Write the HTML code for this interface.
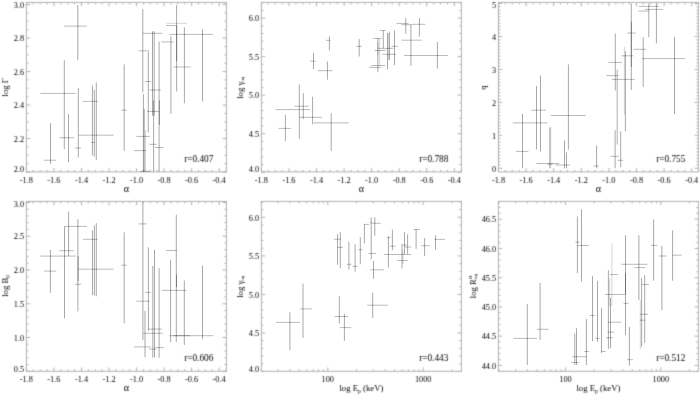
<!DOCTYPE html>
<html><head><meta charset="utf-8"><style>
html,body{margin:0;padding:0;background:#fff;width:700px;height:396px;overflow:hidden}
svg{display:block;will-change:transform}
text{font-family:"Liberation Serif",serif;fill:#000}
</style></head><body>
<svg width="700" height="396" viewBox="0 0 700 396">
<defs><filter id="b" x="0" y="0" width="700" height="396" filterUnits="userSpaceOnUse"><feConvolveMatrix order="3" kernelMatrix="0.0144 0.1200 0.0144 0.1200 0.4624 0.1200 0.0144 0.1200 0.0144" edgeMode="duplicate" preserveAlpha="false"/></filter><filter id="b2" x="0" y="0" width="700" height="396" filterUnits="userSpaceOnUse"><feConvolveMatrix order="3" kernelMatrix="0.0000 0.0000 0.0000 0.0000 1.0000 0.0000 0.0000 0.0000 0.0000" edgeMode="duplicate" preserveAlpha="false"/></filter></defs>
<rect width="700" height="396" fill="#fff"/>
<g filter="url(#b)">
<rect x="26.40" y="2.40" width="200.00" height="169.50" fill="none" stroke="#b0b0b0" stroke-width="1"/>
<line x1="26.40" y1="171.90" x2="26.40" y2="168.10" stroke="#b0b0b0" stroke-width="1.0"/>
<line x1="26.40" y1="2.40" x2="26.40" y2="6.20" stroke="#b0b0b0" stroke-width="1.0"/>
<text x="26.40" y="182.50" text-anchor="middle" font-size="8.3" >-1.8</text>
<line x1="33.29" y1="171.90" x2="33.29" y2="169.90" stroke="#b0b0b0" stroke-width="1.0"/>
<line x1="33.29" y1="2.40" x2="33.29" y2="4.40" stroke="#b0b0b0" stroke-width="1.0"/>
<line x1="40.17" y1="171.90" x2="40.17" y2="169.90" stroke="#b0b0b0" stroke-width="1.0"/>
<line x1="40.17" y1="2.40" x2="40.17" y2="4.40" stroke="#b0b0b0" stroke-width="1.0"/>
<line x1="47.06" y1="171.90" x2="47.06" y2="169.90" stroke="#b0b0b0" stroke-width="1.0"/>
<line x1="47.06" y1="2.40" x2="47.06" y2="4.40" stroke="#b0b0b0" stroke-width="1.0"/>
<line x1="53.94" y1="171.90" x2="53.94" y2="168.10" stroke="#b0b0b0" stroke-width="1.0"/>
<line x1="53.94" y1="2.40" x2="53.94" y2="6.20" stroke="#b0b0b0" stroke-width="1.0"/>
<text x="53.94" y="182.50" text-anchor="middle" font-size="8.3" >-1.6</text>
<line x1="60.82" y1="171.90" x2="60.82" y2="169.90" stroke="#b0b0b0" stroke-width="1.0"/>
<line x1="60.82" y1="2.40" x2="60.82" y2="4.40" stroke="#b0b0b0" stroke-width="1.0"/>
<line x1="67.71" y1="171.90" x2="67.71" y2="169.90" stroke="#b0b0b0" stroke-width="1.0"/>
<line x1="67.71" y1="2.40" x2="67.71" y2="4.40" stroke="#b0b0b0" stroke-width="1.0"/>
<line x1="74.59" y1="171.90" x2="74.59" y2="169.90" stroke="#b0b0b0" stroke-width="1.0"/>
<line x1="74.59" y1="2.40" x2="74.59" y2="4.40" stroke="#b0b0b0" stroke-width="1.0"/>
<line x1="81.48" y1="171.90" x2="81.48" y2="168.10" stroke="#b0b0b0" stroke-width="1.0"/>
<line x1="81.48" y1="2.40" x2="81.48" y2="6.20" stroke="#b0b0b0" stroke-width="1.0"/>
<text x="81.48" y="182.50" text-anchor="middle" font-size="8.3" >-1.4</text>
<line x1="88.36" y1="171.90" x2="88.36" y2="169.90" stroke="#b0b0b0" stroke-width="1.0"/>
<line x1="88.36" y1="2.40" x2="88.36" y2="4.40" stroke="#b0b0b0" stroke-width="1.0"/>
<line x1="95.25" y1="171.90" x2="95.25" y2="169.90" stroke="#b0b0b0" stroke-width="1.0"/>
<line x1="95.25" y1="2.40" x2="95.25" y2="4.40" stroke="#b0b0b0" stroke-width="1.0"/>
<line x1="102.13" y1="171.90" x2="102.13" y2="169.90" stroke="#b0b0b0" stroke-width="1.0"/>
<line x1="102.13" y1="2.40" x2="102.13" y2="4.40" stroke="#b0b0b0" stroke-width="1.0"/>
<line x1="109.02" y1="171.90" x2="109.02" y2="168.10" stroke="#b0b0b0" stroke-width="1.0"/>
<line x1="109.02" y1="2.40" x2="109.02" y2="6.20" stroke="#b0b0b0" stroke-width="1.0"/>
<text x="109.02" y="182.50" text-anchor="middle" font-size="8.3" >-1.2</text>
<line x1="115.91" y1="171.90" x2="115.91" y2="169.90" stroke="#b0b0b0" stroke-width="1.0"/>
<line x1="115.91" y1="2.40" x2="115.91" y2="4.40" stroke="#b0b0b0" stroke-width="1.0"/>
<line x1="122.79" y1="171.90" x2="122.79" y2="169.90" stroke="#b0b0b0" stroke-width="1.0"/>
<line x1="122.79" y1="2.40" x2="122.79" y2="4.40" stroke="#b0b0b0" stroke-width="1.0"/>
<line x1="129.67" y1="171.90" x2="129.67" y2="169.90" stroke="#b0b0b0" stroke-width="1.0"/>
<line x1="129.67" y1="2.40" x2="129.67" y2="4.40" stroke="#b0b0b0" stroke-width="1.0"/>
<line x1="136.56" y1="171.90" x2="136.56" y2="168.10" stroke="#b0b0b0" stroke-width="1.0"/>
<line x1="136.56" y1="2.40" x2="136.56" y2="6.20" stroke="#b0b0b0" stroke-width="1.0"/>
<text x="136.56" y="182.50" text-anchor="middle" font-size="8.3" >-1.0</text>
<line x1="143.44" y1="171.90" x2="143.44" y2="169.90" stroke="#b0b0b0" stroke-width="1.0"/>
<line x1="143.44" y1="2.40" x2="143.44" y2="4.40" stroke="#b0b0b0" stroke-width="1.0"/>
<line x1="150.33" y1="171.90" x2="150.33" y2="169.90" stroke="#b0b0b0" stroke-width="1.0"/>
<line x1="150.33" y1="2.40" x2="150.33" y2="4.40" stroke="#b0b0b0" stroke-width="1.0"/>
<line x1="157.22" y1="171.90" x2="157.22" y2="169.90" stroke="#b0b0b0" stroke-width="1.0"/>
<line x1="157.22" y1="2.40" x2="157.22" y2="4.40" stroke="#b0b0b0" stroke-width="1.0"/>
<line x1="164.10" y1="171.90" x2="164.10" y2="168.10" stroke="#b0b0b0" stroke-width="1.0"/>
<line x1="164.10" y1="2.40" x2="164.10" y2="6.20" stroke="#b0b0b0" stroke-width="1.0"/>
<text x="164.10" y="182.50" text-anchor="middle" font-size="8.3" >-0.8</text>
<line x1="170.99" y1="171.90" x2="170.99" y2="169.90" stroke="#b0b0b0" stroke-width="1.0"/>
<line x1="170.99" y1="2.40" x2="170.99" y2="4.40" stroke="#b0b0b0" stroke-width="1.0"/>
<line x1="177.87" y1="171.90" x2="177.87" y2="169.90" stroke="#b0b0b0" stroke-width="1.0"/>
<line x1="177.87" y1="2.40" x2="177.87" y2="4.40" stroke="#b0b0b0" stroke-width="1.0"/>
<line x1="184.76" y1="171.90" x2="184.76" y2="169.90" stroke="#b0b0b0" stroke-width="1.0"/>
<line x1="184.76" y1="2.40" x2="184.76" y2="4.40" stroke="#b0b0b0" stroke-width="1.0"/>
<line x1="191.64" y1="171.90" x2="191.64" y2="168.10" stroke="#b0b0b0" stroke-width="1.0"/>
<line x1="191.64" y1="2.40" x2="191.64" y2="6.20" stroke="#b0b0b0" stroke-width="1.0"/>
<text x="191.64" y="182.50" text-anchor="middle" font-size="8.3" >-0.6</text>
<line x1="198.53" y1="171.90" x2="198.53" y2="169.90" stroke="#b0b0b0" stroke-width="1.0"/>
<line x1="198.53" y1="2.40" x2="198.53" y2="4.40" stroke="#b0b0b0" stroke-width="1.0"/>
<line x1="205.41" y1="171.90" x2="205.41" y2="169.90" stroke="#b0b0b0" stroke-width="1.0"/>
<line x1="205.41" y1="2.40" x2="205.41" y2="4.40" stroke="#b0b0b0" stroke-width="1.0"/>
<line x1="212.30" y1="171.90" x2="212.30" y2="169.90" stroke="#b0b0b0" stroke-width="1.0"/>
<line x1="212.30" y1="2.40" x2="212.30" y2="4.40" stroke="#b0b0b0" stroke-width="1.0"/>
<line x1="219.18" y1="171.90" x2="219.18" y2="168.10" stroke="#b0b0b0" stroke-width="1.0"/>
<line x1="219.18" y1="2.40" x2="219.18" y2="6.20" stroke="#b0b0b0" stroke-width="1.0"/>
<text x="219.18" y="182.50" text-anchor="middle" font-size="8.3" >-0.4</text>
<line x1="226.07" y1="171.90" x2="226.07" y2="169.90" stroke="#b0b0b0" stroke-width="1.0"/>
<line x1="226.07" y1="2.40" x2="226.07" y2="4.40" stroke="#b0b0b0" stroke-width="1.0"/>
<line x1="26.40" y1="172.10" x2="30.20" y2="172.10" stroke="#b0b0b0" stroke-width="1.0"/>
<line x1="226.40" y1="172.10" x2="222.60" y2="172.10" stroke="#b0b0b0" stroke-width="1.0"/>
<text x="24.20" y="172.20" text-anchor="end" font-size="8.3" >2.0</text>
<line x1="26.40" y1="163.72" x2="28.40" y2="163.72" stroke="#b0b0b0" stroke-width="1.0"/>
<line x1="226.40" y1="163.72" x2="224.40" y2="163.72" stroke="#b0b0b0" stroke-width="1.0"/>
<line x1="26.40" y1="155.34" x2="28.40" y2="155.34" stroke="#b0b0b0" stroke-width="1.0"/>
<line x1="226.40" y1="155.34" x2="224.40" y2="155.34" stroke="#b0b0b0" stroke-width="1.0"/>
<line x1="26.40" y1="146.96" x2="28.40" y2="146.96" stroke="#b0b0b0" stroke-width="1.0"/>
<line x1="226.40" y1="146.96" x2="224.40" y2="146.96" stroke="#b0b0b0" stroke-width="1.0"/>
<line x1="26.40" y1="138.58" x2="30.20" y2="138.58" stroke="#b0b0b0" stroke-width="1.0"/>
<line x1="226.40" y1="138.58" x2="222.60" y2="138.58" stroke="#b0b0b0" stroke-width="1.0"/>
<text x="24.20" y="141.78" text-anchor="end" font-size="8.3" >2.2</text>
<line x1="26.40" y1="130.20" x2="28.40" y2="130.20" stroke="#b0b0b0" stroke-width="1.0"/>
<line x1="226.40" y1="130.20" x2="224.40" y2="130.20" stroke="#b0b0b0" stroke-width="1.0"/>
<line x1="26.40" y1="121.82" x2="28.40" y2="121.82" stroke="#b0b0b0" stroke-width="1.0"/>
<line x1="226.40" y1="121.82" x2="224.40" y2="121.82" stroke="#b0b0b0" stroke-width="1.0"/>
<line x1="26.40" y1="113.44" x2="28.40" y2="113.44" stroke="#b0b0b0" stroke-width="1.0"/>
<line x1="226.40" y1="113.44" x2="224.40" y2="113.44" stroke="#b0b0b0" stroke-width="1.0"/>
<line x1="26.40" y1="105.06" x2="30.20" y2="105.06" stroke="#b0b0b0" stroke-width="1.0"/>
<line x1="226.40" y1="105.06" x2="222.60" y2="105.06" stroke="#b0b0b0" stroke-width="1.0"/>
<text x="24.20" y="108.26" text-anchor="end" font-size="8.3" >2.4</text>
<line x1="26.40" y1="96.68" x2="28.40" y2="96.68" stroke="#b0b0b0" stroke-width="1.0"/>
<line x1="226.40" y1="96.68" x2="224.40" y2="96.68" stroke="#b0b0b0" stroke-width="1.0"/>
<line x1="26.40" y1="88.30" x2="28.40" y2="88.30" stroke="#b0b0b0" stroke-width="1.0"/>
<line x1="226.40" y1="88.30" x2="224.40" y2="88.30" stroke="#b0b0b0" stroke-width="1.0"/>
<line x1="26.40" y1="79.92" x2="28.40" y2="79.92" stroke="#b0b0b0" stroke-width="1.0"/>
<line x1="226.40" y1="79.92" x2="224.40" y2="79.92" stroke="#b0b0b0" stroke-width="1.0"/>
<line x1="26.40" y1="71.54" x2="30.20" y2="71.54" stroke="#b0b0b0" stroke-width="1.0"/>
<line x1="226.40" y1="71.54" x2="222.60" y2="71.54" stroke="#b0b0b0" stroke-width="1.0"/>
<text x="24.20" y="74.74" text-anchor="end" font-size="8.3" >2.6</text>
<line x1="26.40" y1="63.16" x2="28.40" y2="63.16" stroke="#b0b0b0" stroke-width="1.0"/>
<line x1="226.40" y1="63.16" x2="224.40" y2="63.16" stroke="#b0b0b0" stroke-width="1.0"/>
<line x1="26.40" y1="54.78" x2="28.40" y2="54.78" stroke="#b0b0b0" stroke-width="1.0"/>
<line x1="226.40" y1="54.78" x2="224.40" y2="54.78" stroke="#b0b0b0" stroke-width="1.0"/>
<line x1="26.40" y1="46.40" x2="28.40" y2="46.40" stroke="#b0b0b0" stroke-width="1.0"/>
<line x1="226.40" y1="46.40" x2="224.40" y2="46.40" stroke="#b0b0b0" stroke-width="1.0"/>
<line x1="26.40" y1="38.02" x2="30.20" y2="38.02" stroke="#b0b0b0" stroke-width="1.0"/>
<line x1="226.40" y1="38.02" x2="222.60" y2="38.02" stroke="#b0b0b0" stroke-width="1.0"/>
<text x="24.20" y="41.22" text-anchor="end" font-size="8.3" >2.8</text>
<line x1="26.40" y1="29.64" x2="28.40" y2="29.64" stroke="#b0b0b0" stroke-width="1.0"/>
<line x1="226.40" y1="29.64" x2="224.40" y2="29.64" stroke="#b0b0b0" stroke-width="1.0"/>
<line x1="26.40" y1="21.26" x2="28.40" y2="21.26" stroke="#b0b0b0" stroke-width="1.0"/>
<line x1="226.40" y1="21.26" x2="224.40" y2="21.26" stroke="#b0b0b0" stroke-width="1.0"/>
<line x1="26.40" y1="12.88" x2="28.40" y2="12.88" stroke="#b0b0b0" stroke-width="1.0"/>
<line x1="226.40" y1="12.88" x2="224.40" y2="12.88" stroke="#b0b0b0" stroke-width="1.0"/>
<line x1="26.40" y1="4.50" x2="30.20" y2="4.50" stroke="#b0b0b0" stroke-width="1.0"/>
<line x1="226.40" y1="4.50" x2="222.60" y2="4.50" stroke="#b0b0b0" stroke-width="1.0"/>
<text x="24.20" y="7.70" text-anchor="end" font-size="8.3" >3.0</text>
<rect x="261.40" y="2.40" width="200.00" height="169.50" fill="none" stroke="#b0b0b0" stroke-width="1"/>
<line x1="261.40" y1="171.90" x2="261.40" y2="168.10" stroke="#b0b0b0" stroke-width="1.0"/>
<line x1="261.40" y1="2.40" x2="261.40" y2="6.20" stroke="#b0b0b0" stroke-width="1.0"/>
<text x="261.40" y="182.50" text-anchor="middle" font-size="8.3" >-1.8</text>
<line x1="268.29" y1="171.90" x2="268.29" y2="169.90" stroke="#b0b0b0" stroke-width="1.0"/>
<line x1="268.29" y1="2.40" x2="268.29" y2="4.40" stroke="#b0b0b0" stroke-width="1.0"/>
<line x1="275.18" y1="171.90" x2="275.18" y2="169.90" stroke="#b0b0b0" stroke-width="1.0"/>
<line x1="275.18" y1="2.40" x2="275.18" y2="4.40" stroke="#b0b0b0" stroke-width="1.0"/>
<line x1="282.07" y1="171.90" x2="282.07" y2="169.90" stroke="#b0b0b0" stroke-width="1.0"/>
<line x1="282.07" y1="2.40" x2="282.07" y2="4.40" stroke="#b0b0b0" stroke-width="1.0"/>
<line x1="288.96" y1="171.90" x2="288.96" y2="168.10" stroke="#b0b0b0" stroke-width="1.0"/>
<line x1="288.96" y1="2.40" x2="288.96" y2="6.20" stroke="#b0b0b0" stroke-width="1.0"/>
<text x="288.96" y="182.50" text-anchor="middle" font-size="8.3" >-1.6</text>
<line x1="295.85" y1="171.90" x2="295.85" y2="169.90" stroke="#b0b0b0" stroke-width="1.0"/>
<line x1="295.85" y1="2.40" x2="295.85" y2="4.40" stroke="#b0b0b0" stroke-width="1.0"/>
<line x1="302.74" y1="171.90" x2="302.74" y2="169.90" stroke="#b0b0b0" stroke-width="1.0"/>
<line x1="302.74" y1="2.40" x2="302.74" y2="4.40" stroke="#b0b0b0" stroke-width="1.0"/>
<line x1="309.63" y1="171.90" x2="309.63" y2="169.90" stroke="#b0b0b0" stroke-width="1.0"/>
<line x1="309.63" y1="2.40" x2="309.63" y2="4.40" stroke="#b0b0b0" stroke-width="1.0"/>
<line x1="316.52" y1="171.90" x2="316.52" y2="168.10" stroke="#b0b0b0" stroke-width="1.0"/>
<line x1="316.52" y1="2.40" x2="316.52" y2="6.20" stroke="#b0b0b0" stroke-width="1.0"/>
<text x="316.52" y="182.50" text-anchor="middle" font-size="8.3" >-1.4</text>
<line x1="323.41" y1="171.90" x2="323.41" y2="169.90" stroke="#b0b0b0" stroke-width="1.0"/>
<line x1="323.41" y1="2.40" x2="323.41" y2="4.40" stroke="#b0b0b0" stroke-width="1.0"/>
<line x1="330.30" y1="171.90" x2="330.30" y2="169.90" stroke="#b0b0b0" stroke-width="1.0"/>
<line x1="330.30" y1="2.40" x2="330.30" y2="4.40" stroke="#b0b0b0" stroke-width="1.0"/>
<line x1="337.19" y1="171.90" x2="337.19" y2="169.90" stroke="#b0b0b0" stroke-width="1.0"/>
<line x1="337.19" y1="2.40" x2="337.19" y2="4.40" stroke="#b0b0b0" stroke-width="1.0"/>
<line x1="344.08" y1="171.90" x2="344.08" y2="168.10" stroke="#b0b0b0" stroke-width="1.0"/>
<line x1="344.08" y1="2.40" x2="344.08" y2="6.20" stroke="#b0b0b0" stroke-width="1.0"/>
<text x="344.08" y="182.50" text-anchor="middle" font-size="8.3" >-1.2</text>
<line x1="350.97" y1="171.90" x2="350.97" y2="169.90" stroke="#b0b0b0" stroke-width="1.0"/>
<line x1="350.97" y1="2.40" x2="350.97" y2="4.40" stroke="#b0b0b0" stroke-width="1.0"/>
<line x1="357.86" y1="171.90" x2="357.86" y2="169.90" stroke="#b0b0b0" stroke-width="1.0"/>
<line x1="357.86" y1="2.40" x2="357.86" y2="4.40" stroke="#b0b0b0" stroke-width="1.0"/>
<line x1="364.75" y1="171.90" x2="364.75" y2="169.90" stroke="#b0b0b0" stroke-width="1.0"/>
<line x1="364.75" y1="2.40" x2="364.75" y2="4.40" stroke="#b0b0b0" stroke-width="1.0"/>
<line x1="371.64" y1="171.90" x2="371.64" y2="168.10" stroke="#b0b0b0" stroke-width="1.0"/>
<line x1="371.64" y1="2.40" x2="371.64" y2="6.20" stroke="#b0b0b0" stroke-width="1.0"/>
<text x="371.64" y="182.50" text-anchor="middle" font-size="8.3" >-1.0</text>
<line x1="378.53" y1="171.90" x2="378.53" y2="169.90" stroke="#b0b0b0" stroke-width="1.0"/>
<line x1="378.53" y1="2.40" x2="378.53" y2="4.40" stroke="#b0b0b0" stroke-width="1.0"/>
<line x1="385.42" y1="171.90" x2="385.42" y2="169.90" stroke="#b0b0b0" stroke-width="1.0"/>
<line x1="385.42" y1="2.40" x2="385.42" y2="4.40" stroke="#b0b0b0" stroke-width="1.0"/>
<line x1="392.31" y1="171.90" x2="392.31" y2="169.90" stroke="#b0b0b0" stroke-width="1.0"/>
<line x1="392.31" y1="2.40" x2="392.31" y2="4.40" stroke="#b0b0b0" stroke-width="1.0"/>
<line x1="399.20" y1="171.90" x2="399.20" y2="168.10" stroke="#b0b0b0" stroke-width="1.0"/>
<line x1="399.20" y1="2.40" x2="399.20" y2="6.20" stroke="#b0b0b0" stroke-width="1.0"/>
<text x="399.20" y="182.50" text-anchor="middle" font-size="8.3" >-0.8</text>
<line x1="406.09" y1="171.90" x2="406.09" y2="169.90" stroke="#b0b0b0" stroke-width="1.0"/>
<line x1="406.09" y1="2.40" x2="406.09" y2="4.40" stroke="#b0b0b0" stroke-width="1.0"/>
<line x1="412.98" y1="171.90" x2="412.98" y2="169.90" stroke="#b0b0b0" stroke-width="1.0"/>
<line x1="412.98" y1="2.40" x2="412.98" y2="4.40" stroke="#b0b0b0" stroke-width="1.0"/>
<line x1="419.87" y1="171.90" x2="419.87" y2="169.90" stroke="#b0b0b0" stroke-width="1.0"/>
<line x1="419.87" y1="2.40" x2="419.87" y2="4.40" stroke="#b0b0b0" stroke-width="1.0"/>
<line x1="426.76" y1="171.90" x2="426.76" y2="168.10" stroke="#b0b0b0" stroke-width="1.0"/>
<line x1="426.76" y1="2.40" x2="426.76" y2="6.20" stroke="#b0b0b0" stroke-width="1.0"/>
<text x="426.76" y="182.50" text-anchor="middle" font-size="8.3" >-0.6</text>
<line x1="433.65" y1="171.90" x2="433.65" y2="169.90" stroke="#b0b0b0" stroke-width="1.0"/>
<line x1="433.65" y1="2.40" x2="433.65" y2="4.40" stroke="#b0b0b0" stroke-width="1.0"/>
<line x1="440.54" y1="171.90" x2="440.54" y2="169.90" stroke="#b0b0b0" stroke-width="1.0"/>
<line x1="440.54" y1="2.40" x2="440.54" y2="4.40" stroke="#b0b0b0" stroke-width="1.0"/>
<line x1="447.43" y1="171.90" x2="447.43" y2="169.90" stroke="#b0b0b0" stroke-width="1.0"/>
<line x1="447.43" y1="2.40" x2="447.43" y2="4.40" stroke="#b0b0b0" stroke-width="1.0"/>
<line x1="454.32" y1="171.90" x2="454.32" y2="168.10" stroke="#b0b0b0" stroke-width="1.0"/>
<line x1="454.32" y1="2.40" x2="454.32" y2="6.20" stroke="#b0b0b0" stroke-width="1.0"/>
<text x="454.32" y="182.50" text-anchor="middle" font-size="8.3" >-0.4</text>
<line x1="461.21" y1="171.90" x2="461.21" y2="169.90" stroke="#b0b0b0" stroke-width="1.0"/>
<line x1="461.21" y1="2.40" x2="461.21" y2="4.40" stroke="#b0b0b0" stroke-width="1.0"/>
<line x1="261.40" y1="172.20" x2="265.20" y2="172.20" stroke="#b0b0b0" stroke-width="1.0"/>
<line x1="461.40" y1="172.20" x2="457.60" y2="172.20" stroke="#b0b0b0" stroke-width="1.0"/>
<text x="259.20" y="172.20" text-anchor="end" font-size="8.3" >4.0</text>
<line x1="261.40" y1="164.49" x2="263.40" y2="164.49" stroke="#b0b0b0" stroke-width="1.0"/>
<line x1="461.40" y1="164.49" x2="459.40" y2="164.49" stroke="#b0b0b0" stroke-width="1.0"/>
<line x1="261.40" y1="156.79" x2="263.40" y2="156.79" stroke="#b0b0b0" stroke-width="1.0"/>
<line x1="461.40" y1="156.79" x2="459.40" y2="156.79" stroke="#b0b0b0" stroke-width="1.0"/>
<line x1="261.40" y1="149.08" x2="263.40" y2="149.08" stroke="#b0b0b0" stroke-width="1.0"/>
<line x1="461.40" y1="149.08" x2="459.40" y2="149.08" stroke="#b0b0b0" stroke-width="1.0"/>
<line x1="261.40" y1="141.38" x2="263.40" y2="141.38" stroke="#b0b0b0" stroke-width="1.0"/>
<line x1="461.40" y1="141.38" x2="459.40" y2="141.38" stroke="#b0b0b0" stroke-width="1.0"/>
<line x1="261.40" y1="133.67" x2="265.20" y2="133.67" stroke="#b0b0b0" stroke-width="1.0"/>
<line x1="461.40" y1="133.67" x2="457.60" y2="133.67" stroke="#b0b0b0" stroke-width="1.0"/>
<text x="259.20" y="136.87" text-anchor="end" font-size="8.3" >4.5</text>
<line x1="261.40" y1="125.96" x2="263.40" y2="125.96" stroke="#b0b0b0" stroke-width="1.0"/>
<line x1="461.40" y1="125.96" x2="459.40" y2="125.96" stroke="#b0b0b0" stroke-width="1.0"/>
<line x1="261.40" y1="118.26" x2="263.40" y2="118.26" stroke="#b0b0b0" stroke-width="1.0"/>
<line x1="461.40" y1="118.26" x2="459.40" y2="118.26" stroke="#b0b0b0" stroke-width="1.0"/>
<line x1="261.40" y1="110.55" x2="263.40" y2="110.55" stroke="#b0b0b0" stroke-width="1.0"/>
<line x1="461.40" y1="110.55" x2="459.40" y2="110.55" stroke="#b0b0b0" stroke-width="1.0"/>
<line x1="261.40" y1="102.85" x2="263.40" y2="102.85" stroke="#b0b0b0" stroke-width="1.0"/>
<line x1="461.40" y1="102.85" x2="459.40" y2="102.85" stroke="#b0b0b0" stroke-width="1.0"/>
<line x1="261.40" y1="95.14" x2="265.20" y2="95.14" stroke="#b0b0b0" stroke-width="1.0"/>
<line x1="461.40" y1="95.14" x2="457.60" y2="95.14" stroke="#b0b0b0" stroke-width="1.0"/>
<text x="259.20" y="98.34" text-anchor="end" font-size="8.3" >5.0</text>
<line x1="261.40" y1="87.43" x2="263.40" y2="87.43" stroke="#b0b0b0" stroke-width="1.0"/>
<line x1="461.40" y1="87.43" x2="459.40" y2="87.43" stroke="#b0b0b0" stroke-width="1.0"/>
<line x1="261.40" y1="79.73" x2="263.40" y2="79.73" stroke="#b0b0b0" stroke-width="1.0"/>
<line x1="461.40" y1="79.73" x2="459.40" y2="79.73" stroke="#b0b0b0" stroke-width="1.0"/>
<line x1="261.40" y1="72.02" x2="263.40" y2="72.02" stroke="#b0b0b0" stroke-width="1.0"/>
<line x1="461.40" y1="72.02" x2="459.40" y2="72.02" stroke="#b0b0b0" stroke-width="1.0"/>
<line x1="261.40" y1="64.32" x2="263.40" y2="64.32" stroke="#b0b0b0" stroke-width="1.0"/>
<line x1="461.40" y1="64.32" x2="459.40" y2="64.32" stroke="#b0b0b0" stroke-width="1.0"/>
<line x1="261.40" y1="56.61" x2="265.20" y2="56.61" stroke="#b0b0b0" stroke-width="1.0"/>
<line x1="461.40" y1="56.61" x2="457.60" y2="56.61" stroke="#b0b0b0" stroke-width="1.0"/>
<text x="259.20" y="59.81" text-anchor="end" font-size="8.3" >5.5</text>
<line x1="261.40" y1="48.90" x2="263.40" y2="48.90" stroke="#b0b0b0" stroke-width="1.0"/>
<line x1="461.40" y1="48.90" x2="459.40" y2="48.90" stroke="#b0b0b0" stroke-width="1.0"/>
<line x1="261.40" y1="41.20" x2="263.40" y2="41.20" stroke="#b0b0b0" stroke-width="1.0"/>
<line x1="461.40" y1="41.20" x2="459.40" y2="41.20" stroke="#b0b0b0" stroke-width="1.0"/>
<line x1="261.40" y1="33.49" x2="263.40" y2="33.49" stroke="#b0b0b0" stroke-width="1.0"/>
<line x1="461.40" y1="33.49" x2="459.40" y2="33.49" stroke="#b0b0b0" stroke-width="1.0"/>
<line x1="261.40" y1="25.79" x2="263.40" y2="25.79" stroke="#b0b0b0" stroke-width="1.0"/>
<line x1="461.40" y1="25.79" x2="459.40" y2="25.79" stroke="#b0b0b0" stroke-width="1.0"/>
<line x1="261.40" y1="18.08" x2="265.20" y2="18.08" stroke="#b0b0b0" stroke-width="1.0"/>
<line x1="461.40" y1="18.08" x2="457.60" y2="18.08" stroke="#b0b0b0" stroke-width="1.0"/>
<text x="259.20" y="21.28" text-anchor="end" font-size="8.3" >6.0</text>
<line x1="261.40" y1="10.37" x2="263.40" y2="10.37" stroke="#b0b0b0" stroke-width="1.0"/>
<line x1="461.40" y1="10.37" x2="459.40" y2="10.37" stroke="#b0b0b0" stroke-width="1.0"/>
<line x1="261.40" y1="2.67" x2="263.40" y2="2.67" stroke="#b0b0b0" stroke-width="1.0"/>
<line x1="461.40" y1="2.67" x2="459.40" y2="2.67" stroke="#b0b0b0" stroke-width="1.0"/>
<rect x="498.40" y="2.40" width="200.00" height="169.50" fill="none" stroke="#b0b0b0" stroke-width="1"/>
<line x1="498.50" y1="171.90" x2="498.50" y2="168.10" stroke="#b0b0b0" stroke-width="1.0"/>
<line x1="498.50" y1="2.40" x2="498.50" y2="6.20" stroke="#b0b0b0" stroke-width="1.0"/>
<text x="498.50" y="182.50" text-anchor="middle" font-size="8.3" >-1.8</text>
<line x1="505.40" y1="171.90" x2="505.40" y2="169.90" stroke="#b0b0b0" stroke-width="1.0"/>
<line x1="505.40" y1="2.40" x2="505.40" y2="4.40" stroke="#b0b0b0" stroke-width="1.0"/>
<line x1="512.30" y1="171.90" x2="512.30" y2="169.90" stroke="#b0b0b0" stroke-width="1.0"/>
<line x1="512.30" y1="2.40" x2="512.30" y2="4.40" stroke="#b0b0b0" stroke-width="1.0"/>
<line x1="519.20" y1="171.90" x2="519.20" y2="169.90" stroke="#b0b0b0" stroke-width="1.0"/>
<line x1="519.20" y1="2.40" x2="519.20" y2="4.40" stroke="#b0b0b0" stroke-width="1.0"/>
<line x1="526.10" y1="171.90" x2="526.10" y2="168.10" stroke="#b0b0b0" stroke-width="1.0"/>
<line x1="526.10" y1="2.40" x2="526.10" y2="6.20" stroke="#b0b0b0" stroke-width="1.0"/>
<text x="526.10" y="182.50" text-anchor="middle" font-size="8.3" >-1.6</text>
<line x1="533.00" y1="171.90" x2="533.00" y2="169.90" stroke="#b0b0b0" stroke-width="1.0"/>
<line x1="533.00" y1="2.40" x2="533.00" y2="4.40" stroke="#b0b0b0" stroke-width="1.0"/>
<line x1="539.90" y1="171.90" x2="539.90" y2="169.90" stroke="#b0b0b0" stroke-width="1.0"/>
<line x1="539.90" y1="2.40" x2="539.90" y2="4.40" stroke="#b0b0b0" stroke-width="1.0"/>
<line x1="546.80" y1="171.90" x2="546.80" y2="169.90" stroke="#b0b0b0" stroke-width="1.0"/>
<line x1="546.80" y1="2.40" x2="546.80" y2="4.40" stroke="#b0b0b0" stroke-width="1.0"/>
<line x1="553.70" y1="171.90" x2="553.70" y2="168.10" stroke="#b0b0b0" stroke-width="1.0"/>
<line x1="553.70" y1="2.40" x2="553.70" y2="6.20" stroke="#b0b0b0" stroke-width="1.0"/>
<text x="553.70" y="182.50" text-anchor="middle" font-size="8.3" >-1.4</text>
<line x1="560.60" y1="171.90" x2="560.60" y2="169.90" stroke="#b0b0b0" stroke-width="1.0"/>
<line x1="560.60" y1="2.40" x2="560.60" y2="4.40" stroke="#b0b0b0" stroke-width="1.0"/>
<line x1="567.50" y1="171.90" x2="567.50" y2="169.90" stroke="#b0b0b0" stroke-width="1.0"/>
<line x1="567.50" y1="2.40" x2="567.50" y2="4.40" stroke="#b0b0b0" stroke-width="1.0"/>
<line x1="574.40" y1="171.90" x2="574.40" y2="169.90" stroke="#b0b0b0" stroke-width="1.0"/>
<line x1="574.40" y1="2.40" x2="574.40" y2="4.40" stroke="#b0b0b0" stroke-width="1.0"/>
<line x1="581.30" y1="171.90" x2="581.30" y2="168.10" stroke="#b0b0b0" stroke-width="1.0"/>
<line x1="581.30" y1="2.40" x2="581.30" y2="6.20" stroke="#b0b0b0" stroke-width="1.0"/>
<text x="581.30" y="182.50" text-anchor="middle" font-size="8.3" >-1.2</text>
<line x1="588.20" y1="171.90" x2="588.20" y2="169.90" stroke="#b0b0b0" stroke-width="1.0"/>
<line x1="588.20" y1="2.40" x2="588.20" y2="4.40" stroke="#b0b0b0" stroke-width="1.0"/>
<line x1="595.10" y1="171.90" x2="595.10" y2="169.90" stroke="#b0b0b0" stroke-width="1.0"/>
<line x1="595.10" y1="2.40" x2="595.10" y2="4.40" stroke="#b0b0b0" stroke-width="1.0"/>
<line x1="602.00" y1="171.90" x2="602.00" y2="169.90" stroke="#b0b0b0" stroke-width="1.0"/>
<line x1="602.00" y1="2.40" x2="602.00" y2="4.40" stroke="#b0b0b0" stroke-width="1.0"/>
<line x1="608.90" y1="171.90" x2="608.90" y2="168.10" stroke="#b0b0b0" stroke-width="1.0"/>
<line x1="608.90" y1="2.40" x2="608.90" y2="6.20" stroke="#b0b0b0" stroke-width="1.0"/>
<text x="608.90" y="182.50" text-anchor="middle" font-size="8.3" >-1.0</text>
<line x1="615.80" y1="171.90" x2="615.80" y2="169.90" stroke="#b0b0b0" stroke-width="1.0"/>
<line x1="615.80" y1="2.40" x2="615.80" y2="4.40" stroke="#b0b0b0" stroke-width="1.0"/>
<line x1="622.70" y1="171.90" x2="622.70" y2="169.90" stroke="#b0b0b0" stroke-width="1.0"/>
<line x1="622.70" y1="2.40" x2="622.70" y2="4.40" stroke="#b0b0b0" stroke-width="1.0"/>
<line x1="629.60" y1="171.90" x2="629.60" y2="169.90" stroke="#b0b0b0" stroke-width="1.0"/>
<line x1="629.60" y1="2.40" x2="629.60" y2="4.40" stroke="#b0b0b0" stroke-width="1.0"/>
<line x1="636.50" y1="171.90" x2="636.50" y2="168.10" stroke="#b0b0b0" stroke-width="1.0"/>
<line x1="636.50" y1="2.40" x2="636.50" y2="6.20" stroke="#b0b0b0" stroke-width="1.0"/>
<text x="636.50" y="182.50" text-anchor="middle" font-size="8.3" >-0.8</text>
<line x1="643.40" y1="171.90" x2="643.40" y2="169.90" stroke="#b0b0b0" stroke-width="1.0"/>
<line x1="643.40" y1="2.40" x2="643.40" y2="4.40" stroke="#b0b0b0" stroke-width="1.0"/>
<line x1="650.30" y1="171.90" x2="650.30" y2="169.90" stroke="#b0b0b0" stroke-width="1.0"/>
<line x1="650.30" y1="2.40" x2="650.30" y2="4.40" stroke="#b0b0b0" stroke-width="1.0"/>
<line x1="657.20" y1="171.90" x2="657.20" y2="169.90" stroke="#b0b0b0" stroke-width="1.0"/>
<line x1="657.20" y1="2.40" x2="657.20" y2="4.40" stroke="#b0b0b0" stroke-width="1.0"/>
<line x1="664.10" y1="171.90" x2="664.10" y2="168.10" stroke="#b0b0b0" stroke-width="1.0"/>
<line x1="664.10" y1="2.40" x2="664.10" y2="6.20" stroke="#b0b0b0" stroke-width="1.0"/>
<text x="664.10" y="182.50" text-anchor="middle" font-size="8.3" >-0.6</text>
<line x1="671.00" y1="171.90" x2="671.00" y2="169.90" stroke="#b0b0b0" stroke-width="1.0"/>
<line x1="671.00" y1="2.40" x2="671.00" y2="4.40" stroke="#b0b0b0" stroke-width="1.0"/>
<line x1="677.90" y1="171.90" x2="677.90" y2="169.90" stroke="#b0b0b0" stroke-width="1.0"/>
<line x1="677.90" y1="2.40" x2="677.90" y2="4.40" stroke="#b0b0b0" stroke-width="1.0"/>
<line x1="684.80" y1="171.90" x2="684.80" y2="169.90" stroke="#b0b0b0" stroke-width="1.0"/>
<line x1="684.80" y1="2.40" x2="684.80" y2="4.40" stroke="#b0b0b0" stroke-width="1.0"/>
<line x1="691.70" y1="171.90" x2="691.70" y2="168.10" stroke="#b0b0b0" stroke-width="1.0"/>
<line x1="691.70" y1="2.40" x2="691.70" y2="6.20" stroke="#b0b0b0" stroke-width="1.0"/>
<text x="691.70" y="182.50" text-anchor="middle" font-size="8.3" >-0.4</text>
<line x1="698.60" y1="171.90" x2="698.60" y2="169.90" stroke="#b0b0b0" stroke-width="1.0"/>
<line x1="698.60" y1="2.40" x2="698.60" y2="4.40" stroke="#b0b0b0" stroke-width="1.0"/>
<line x1="498.40" y1="168.30" x2="502.20" y2="168.30" stroke="#b0b0b0" stroke-width="1.0"/>
<line x1="698.40" y1="168.30" x2="694.60" y2="168.30" stroke="#b0b0b0" stroke-width="1.0"/>
<text x="496.20" y="171.50" text-anchor="end" font-size="8.3" >0</text>
<line x1="498.40" y1="165.01" x2="500.40" y2="165.01" stroke="#b0b0b0" stroke-width="1.0"/>
<line x1="698.40" y1="165.01" x2="696.40" y2="165.01" stroke="#b0b0b0" stroke-width="1.0"/>
<line x1="498.40" y1="161.71" x2="500.40" y2="161.71" stroke="#b0b0b0" stroke-width="1.0"/>
<line x1="698.40" y1="161.71" x2="696.40" y2="161.71" stroke="#b0b0b0" stroke-width="1.0"/>
<line x1="498.40" y1="158.42" x2="500.40" y2="158.42" stroke="#b0b0b0" stroke-width="1.0"/>
<line x1="698.40" y1="158.42" x2="696.40" y2="158.42" stroke="#b0b0b0" stroke-width="1.0"/>
<line x1="498.40" y1="155.12" x2="500.40" y2="155.12" stroke="#b0b0b0" stroke-width="1.0"/>
<line x1="698.40" y1="155.12" x2="696.40" y2="155.12" stroke="#b0b0b0" stroke-width="1.0"/>
<line x1="498.40" y1="151.83" x2="500.40" y2="151.83" stroke="#b0b0b0" stroke-width="1.0"/>
<line x1="698.40" y1="151.83" x2="696.40" y2="151.83" stroke="#b0b0b0" stroke-width="1.0"/>
<line x1="498.40" y1="148.53" x2="500.40" y2="148.53" stroke="#b0b0b0" stroke-width="1.0"/>
<line x1="698.40" y1="148.53" x2="696.40" y2="148.53" stroke="#b0b0b0" stroke-width="1.0"/>
<line x1="498.40" y1="145.24" x2="500.40" y2="145.24" stroke="#b0b0b0" stroke-width="1.0"/>
<line x1="698.40" y1="145.24" x2="696.40" y2="145.24" stroke="#b0b0b0" stroke-width="1.0"/>
<line x1="498.40" y1="141.94" x2="500.40" y2="141.94" stroke="#b0b0b0" stroke-width="1.0"/>
<line x1="698.40" y1="141.94" x2="696.40" y2="141.94" stroke="#b0b0b0" stroke-width="1.0"/>
<line x1="498.40" y1="138.65" x2="500.40" y2="138.65" stroke="#b0b0b0" stroke-width="1.0"/>
<line x1="698.40" y1="138.65" x2="696.40" y2="138.65" stroke="#b0b0b0" stroke-width="1.0"/>
<line x1="498.40" y1="135.35" x2="502.20" y2="135.35" stroke="#b0b0b0" stroke-width="1.0"/>
<line x1="698.40" y1="135.35" x2="694.60" y2="135.35" stroke="#b0b0b0" stroke-width="1.0"/>
<text x="496.20" y="138.55" text-anchor="end" font-size="8.3" >1</text>
<line x1="498.40" y1="132.06" x2="500.40" y2="132.06" stroke="#b0b0b0" stroke-width="1.0"/>
<line x1="698.40" y1="132.06" x2="696.40" y2="132.06" stroke="#b0b0b0" stroke-width="1.0"/>
<line x1="498.40" y1="128.76" x2="500.40" y2="128.76" stroke="#b0b0b0" stroke-width="1.0"/>
<line x1="698.40" y1="128.76" x2="696.40" y2="128.76" stroke="#b0b0b0" stroke-width="1.0"/>
<line x1="498.40" y1="125.47" x2="500.40" y2="125.47" stroke="#b0b0b0" stroke-width="1.0"/>
<line x1="698.40" y1="125.47" x2="696.40" y2="125.47" stroke="#b0b0b0" stroke-width="1.0"/>
<line x1="498.40" y1="122.17" x2="500.40" y2="122.17" stroke="#b0b0b0" stroke-width="1.0"/>
<line x1="698.40" y1="122.17" x2="696.40" y2="122.17" stroke="#b0b0b0" stroke-width="1.0"/>
<line x1="498.40" y1="118.88" x2="500.40" y2="118.88" stroke="#b0b0b0" stroke-width="1.0"/>
<line x1="698.40" y1="118.88" x2="696.40" y2="118.88" stroke="#b0b0b0" stroke-width="1.0"/>
<line x1="498.40" y1="115.58" x2="500.40" y2="115.58" stroke="#b0b0b0" stroke-width="1.0"/>
<line x1="698.40" y1="115.58" x2="696.40" y2="115.58" stroke="#b0b0b0" stroke-width="1.0"/>
<line x1="498.40" y1="112.29" x2="500.40" y2="112.29" stroke="#b0b0b0" stroke-width="1.0"/>
<line x1="698.40" y1="112.29" x2="696.40" y2="112.29" stroke="#b0b0b0" stroke-width="1.0"/>
<line x1="498.40" y1="108.99" x2="500.40" y2="108.99" stroke="#b0b0b0" stroke-width="1.0"/>
<line x1="698.40" y1="108.99" x2="696.40" y2="108.99" stroke="#b0b0b0" stroke-width="1.0"/>
<line x1="498.40" y1="105.70" x2="500.40" y2="105.70" stroke="#b0b0b0" stroke-width="1.0"/>
<line x1="698.40" y1="105.70" x2="696.40" y2="105.70" stroke="#b0b0b0" stroke-width="1.0"/>
<line x1="498.40" y1="102.40" x2="502.20" y2="102.40" stroke="#b0b0b0" stroke-width="1.0"/>
<line x1="698.40" y1="102.40" x2="694.60" y2="102.40" stroke="#b0b0b0" stroke-width="1.0"/>
<text x="496.20" y="105.60" text-anchor="end" font-size="8.3" >2</text>
<line x1="498.40" y1="99.11" x2="500.40" y2="99.11" stroke="#b0b0b0" stroke-width="1.0"/>
<line x1="698.40" y1="99.11" x2="696.40" y2="99.11" stroke="#b0b0b0" stroke-width="1.0"/>
<line x1="498.40" y1="95.81" x2="500.40" y2="95.81" stroke="#b0b0b0" stroke-width="1.0"/>
<line x1="698.40" y1="95.81" x2="696.40" y2="95.81" stroke="#b0b0b0" stroke-width="1.0"/>
<line x1="498.40" y1="92.52" x2="500.40" y2="92.52" stroke="#b0b0b0" stroke-width="1.0"/>
<line x1="698.40" y1="92.52" x2="696.40" y2="92.52" stroke="#b0b0b0" stroke-width="1.0"/>
<line x1="498.40" y1="89.22" x2="500.40" y2="89.22" stroke="#b0b0b0" stroke-width="1.0"/>
<line x1="698.40" y1="89.22" x2="696.40" y2="89.22" stroke="#b0b0b0" stroke-width="1.0"/>
<line x1="498.40" y1="85.93" x2="500.40" y2="85.93" stroke="#b0b0b0" stroke-width="1.0"/>
<line x1="698.40" y1="85.93" x2="696.40" y2="85.93" stroke="#b0b0b0" stroke-width="1.0"/>
<line x1="498.40" y1="82.63" x2="500.40" y2="82.63" stroke="#b0b0b0" stroke-width="1.0"/>
<line x1="698.40" y1="82.63" x2="696.40" y2="82.63" stroke="#b0b0b0" stroke-width="1.0"/>
<line x1="498.40" y1="79.33" x2="500.40" y2="79.33" stroke="#b0b0b0" stroke-width="1.0"/>
<line x1="698.40" y1="79.33" x2="696.40" y2="79.33" stroke="#b0b0b0" stroke-width="1.0"/>
<line x1="498.40" y1="76.04" x2="500.40" y2="76.04" stroke="#b0b0b0" stroke-width="1.0"/>
<line x1="698.40" y1="76.04" x2="696.40" y2="76.04" stroke="#b0b0b0" stroke-width="1.0"/>
<line x1="498.40" y1="72.75" x2="500.40" y2="72.75" stroke="#b0b0b0" stroke-width="1.0"/>
<line x1="698.40" y1="72.75" x2="696.40" y2="72.75" stroke="#b0b0b0" stroke-width="1.0"/>
<line x1="498.40" y1="69.45" x2="502.20" y2="69.45" stroke="#b0b0b0" stroke-width="1.0"/>
<line x1="698.40" y1="69.45" x2="694.60" y2="69.45" stroke="#b0b0b0" stroke-width="1.0"/>
<text x="496.20" y="72.65" text-anchor="end" font-size="8.3" >3</text>
<line x1="498.40" y1="66.16" x2="500.40" y2="66.16" stroke="#b0b0b0" stroke-width="1.0"/>
<line x1="698.40" y1="66.16" x2="696.40" y2="66.16" stroke="#b0b0b0" stroke-width="1.0"/>
<line x1="498.40" y1="62.86" x2="500.40" y2="62.86" stroke="#b0b0b0" stroke-width="1.0"/>
<line x1="698.40" y1="62.86" x2="696.40" y2="62.86" stroke="#b0b0b0" stroke-width="1.0"/>
<line x1="498.40" y1="59.57" x2="500.40" y2="59.57" stroke="#b0b0b0" stroke-width="1.0"/>
<line x1="698.40" y1="59.57" x2="696.40" y2="59.57" stroke="#b0b0b0" stroke-width="1.0"/>
<line x1="498.40" y1="56.27" x2="500.40" y2="56.27" stroke="#b0b0b0" stroke-width="1.0"/>
<line x1="698.40" y1="56.27" x2="696.40" y2="56.27" stroke="#b0b0b0" stroke-width="1.0"/>
<line x1="498.40" y1="52.97" x2="500.40" y2="52.97" stroke="#b0b0b0" stroke-width="1.0"/>
<line x1="698.40" y1="52.97" x2="696.40" y2="52.97" stroke="#b0b0b0" stroke-width="1.0"/>
<line x1="498.40" y1="49.68" x2="500.40" y2="49.68" stroke="#b0b0b0" stroke-width="1.0"/>
<line x1="698.40" y1="49.68" x2="696.40" y2="49.68" stroke="#b0b0b0" stroke-width="1.0"/>
<line x1="498.40" y1="46.38" x2="500.40" y2="46.38" stroke="#b0b0b0" stroke-width="1.0"/>
<line x1="698.40" y1="46.38" x2="696.40" y2="46.38" stroke="#b0b0b0" stroke-width="1.0"/>
<line x1="498.40" y1="43.09" x2="500.40" y2="43.09" stroke="#b0b0b0" stroke-width="1.0"/>
<line x1="698.40" y1="43.09" x2="696.40" y2="43.09" stroke="#b0b0b0" stroke-width="1.0"/>
<line x1="498.40" y1="39.80" x2="500.40" y2="39.80" stroke="#b0b0b0" stroke-width="1.0"/>
<line x1="698.40" y1="39.80" x2="696.40" y2="39.80" stroke="#b0b0b0" stroke-width="1.0"/>
<line x1="498.40" y1="36.50" x2="502.20" y2="36.50" stroke="#b0b0b0" stroke-width="1.0"/>
<line x1="698.40" y1="36.50" x2="694.60" y2="36.50" stroke="#b0b0b0" stroke-width="1.0"/>
<text x="496.20" y="39.70" text-anchor="end" font-size="8.3" >4</text>
<line x1="498.40" y1="33.21" x2="500.40" y2="33.21" stroke="#b0b0b0" stroke-width="1.0"/>
<line x1="698.40" y1="33.21" x2="696.40" y2="33.21" stroke="#b0b0b0" stroke-width="1.0"/>
<line x1="498.40" y1="29.91" x2="500.40" y2="29.91" stroke="#b0b0b0" stroke-width="1.0"/>
<line x1="698.40" y1="29.91" x2="696.40" y2="29.91" stroke="#b0b0b0" stroke-width="1.0"/>
<line x1="498.40" y1="26.62" x2="500.40" y2="26.62" stroke="#b0b0b0" stroke-width="1.0"/>
<line x1="698.40" y1="26.62" x2="696.40" y2="26.62" stroke="#b0b0b0" stroke-width="1.0"/>
<line x1="498.40" y1="23.32" x2="500.40" y2="23.32" stroke="#b0b0b0" stroke-width="1.0"/>
<line x1="698.40" y1="23.32" x2="696.40" y2="23.32" stroke="#b0b0b0" stroke-width="1.0"/>
<line x1="498.40" y1="20.03" x2="500.40" y2="20.03" stroke="#b0b0b0" stroke-width="1.0"/>
<line x1="698.40" y1="20.03" x2="696.40" y2="20.03" stroke="#b0b0b0" stroke-width="1.0"/>
<line x1="498.40" y1="16.73" x2="500.40" y2="16.73" stroke="#b0b0b0" stroke-width="1.0"/>
<line x1="698.40" y1="16.73" x2="696.40" y2="16.73" stroke="#b0b0b0" stroke-width="1.0"/>
<line x1="498.40" y1="13.44" x2="500.40" y2="13.44" stroke="#b0b0b0" stroke-width="1.0"/>
<line x1="698.40" y1="13.44" x2="696.40" y2="13.44" stroke="#b0b0b0" stroke-width="1.0"/>
<line x1="498.40" y1="10.14" x2="500.40" y2="10.14" stroke="#b0b0b0" stroke-width="1.0"/>
<line x1="698.40" y1="10.14" x2="696.40" y2="10.14" stroke="#b0b0b0" stroke-width="1.0"/>
<line x1="498.40" y1="6.84" x2="500.40" y2="6.84" stroke="#b0b0b0" stroke-width="1.0"/>
<line x1="698.40" y1="6.84" x2="696.40" y2="6.84" stroke="#b0b0b0" stroke-width="1.0"/>
<line x1="498.40" y1="3.55" x2="502.20" y2="3.55" stroke="#b0b0b0" stroke-width="1.0"/>
<line x1="698.40" y1="3.55" x2="694.60" y2="3.55" stroke="#b0b0b0" stroke-width="1.0"/>
<text x="496.20" y="7.70" text-anchor="end" font-size="8.3" >5</text>
<rect x="26.40" y="201.40" width="200.00" height="169.90" fill="none" stroke="#b0b0b0" stroke-width="1"/>
<line x1="26.40" y1="371.30" x2="26.40" y2="367.50" stroke="#b0b0b0" stroke-width="1.0"/>
<line x1="26.40" y1="201.40" x2="26.40" y2="205.20" stroke="#b0b0b0" stroke-width="1.0"/>
<text x="26.40" y="381.90" text-anchor="middle" font-size="8.3" >-1.8</text>
<line x1="33.29" y1="371.30" x2="33.29" y2="369.30" stroke="#b0b0b0" stroke-width="1.0"/>
<line x1="33.29" y1="201.40" x2="33.29" y2="203.40" stroke="#b0b0b0" stroke-width="1.0"/>
<line x1="40.17" y1="371.30" x2="40.17" y2="369.30" stroke="#b0b0b0" stroke-width="1.0"/>
<line x1="40.17" y1="201.40" x2="40.17" y2="203.40" stroke="#b0b0b0" stroke-width="1.0"/>
<line x1="47.06" y1="371.30" x2="47.06" y2="369.30" stroke="#b0b0b0" stroke-width="1.0"/>
<line x1="47.06" y1="201.40" x2="47.06" y2="203.40" stroke="#b0b0b0" stroke-width="1.0"/>
<line x1="53.94" y1="371.30" x2="53.94" y2="367.50" stroke="#b0b0b0" stroke-width="1.0"/>
<line x1="53.94" y1="201.40" x2="53.94" y2="205.20" stroke="#b0b0b0" stroke-width="1.0"/>
<text x="53.94" y="381.90" text-anchor="middle" font-size="8.3" >-1.6</text>
<line x1="60.82" y1="371.30" x2="60.82" y2="369.30" stroke="#b0b0b0" stroke-width="1.0"/>
<line x1="60.82" y1="201.40" x2="60.82" y2="203.40" stroke="#b0b0b0" stroke-width="1.0"/>
<line x1="67.71" y1="371.30" x2="67.71" y2="369.30" stroke="#b0b0b0" stroke-width="1.0"/>
<line x1="67.71" y1="201.40" x2="67.71" y2="203.40" stroke="#b0b0b0" stroke-width="1.0"/>
<line x1="74.59" y1="371.30" x2="74.59" y2="369.30" stroke="#b0b0b0" stroke-width="1.0"/>
<line x1="74.59" y1="201.40" x2="74.59" y2="203.40" stroke="#b0b0b0" stroke-width="1.0"/>
<line x1="81.48" y1="371.30" x2="81.48" y2="367.50" stroke="#b0b0b0" stroke-width="1.0"/>
<line x1="81.48" y1="201.40" x2="81.48" y2="205.20" stroke="#b0b0b0" stroke-width="1.0"/>
<text x="81.48" y="381.90" text-anchor="middle" font-size="8.3" >-1.4</text>
<line x1="88.36" y1="371.30" x2="88.36" y2="369.30" stroke="#b0b0b0" stroke-width="1.0"/>
<line x1="88.36" y1="201.40" x2="88.36" y2="203.40" stroke="#b0b0b0" stroke-width="1.0"/>
<line x1="95.25" y1="371.30" x2="95.25" y2="369.30" stroke="#b0b0b0" stroke-width="1.0"/>
<line x1="95.25" y1="201.40" x2="95.25" y2="203.40" stroke="#b0b0b0" stroke-width="1.0"/>
<line x1="102.13" y1="371.30" x2="102.13" y2="369.30" stroke="#b0b0b0" stroke-width="1.0"/>
<line x1="102.13" y1="201.40" x2="102.13" y2="203.40" stroke="#b0b0b0" stroke-width="1.0"/>
<line x1="109.02" y1="371.30" x2="109.02" y2="367.50" stroke="#b0b0b0" stroke-width="1.0"/>
<line x1="109.02" y1="201.40" x2="109.02" y2="205.20" stroke="#b0b0b0" stroke-width="1.0"/>
<text x="109.02" y="381.90" text-anchor="middle" font-size="8.3" >-1.2</text>
<line x1="115.91" y1="371.30" x2="115.91" y2="369.30" stroke="#b0b0b0" stroke-width="1.0"/>
<line x1="115.91" y1="201.40" x2="115.91" y2="203.40" stroke="#b0b0b0" stroke-width="1.0"/>
<line x1="122.79" y1="371.30" x2="122.79" y2="369.30" stroke="#b0b0b0" stroke-width="1.0"/>
<line x1="122.79" y1="201.40" x2="122.79" y2="203.40" stroke="#b0b0b0" stroke-width="1.0"/>
<line x1="129.67" y1="371.30" x2="129.67" y2="369.30" stroke="#b0b0b0" stroke-width="1.0"/>
<line x1="129.67" y1="201.40" x2="129.67" y2="203.40" stroke="#b0b0b0" stroke-width="1.0"/>
<line x1="136.56" y1="371.30" x2="136.56" y2="367.50" stroke="#b0b0b0" stroke-width="1.0"/>
<line x1="136.56" y1="201.40" x2="136.56" y2="205.20" stroke="#b0b0b0" stroke-width="1.0"/>
<text x="136.56" y="381.90" text-anchor="middle" font-size="8.3" >-1.0</text>
<line x1="143.44" y1="371.30" x2="143.44" y2="369.30" stroke="#b0b0b0" stroke-width="1.0"/>
<line x1="143.44" y1="201.40" x2="143.44" y2="203.40" stroke="#b0b0b0" stroke-width="1.0"/>
<line x1="150.33" y1="371.30" x2="150.33" y2="369.30" stroke="#b0b0b0" stroke-width="1.0"/>
<line x1="150.33" y1="201.40" x2="150.33" y2="203.40" stroke="#b0b0b0" stroke-width="1.0"/>
<line x1="157.22" y1="371.30" x2="157.22" y2="369.30" stroke="#b0b0b0" stroke-width="1.0"/>
<line x1="157.22" y1="201.40" x2="157.22" y2="203.40" stroke="#b0b0b0" stroke-width="1.0"/>
<line x1="164.10" y1="371.30" x2="164.10" y2="367.50" stroke="#b0b0b0" stroke-width="1.0"/>
<line x1="164.10" y1="201.40" x2="164.10" y2="205.20" stroke="#b0b0b0" stroke-width="1.0"/>
<text x="164.10" y="381.90" text-anchor="middle" font-size="8.3" >-0.8</text>
<line x1="170.99" y1="371.30" x2="170.99" y2="369.30" stroke="#b0b0b0" stroke-width="1.0"/>
<line x1="170.99" y1="201.40" x2="170.99" y2="203.40" stroke="#b0b0b0" stroke-width="1.0"/>
<line x1="177.87" y1="371.30" x2="177.87" y2="369.30" stroke="#b0b0b0" stroke-width="1.0"/>
<line x1="177.87" y1="201.40" x2="177.87" y2="203.40" stroke="#b0b0b0" stroke-width="1.0"/>
<line x1="184.76" y1="371.30" x2="184.76" y2="369.30" stroke="#b0b0b0" stroke-width="1.0"/>
<line x1="184.76" y1="201.40" x2="184.76" y2="203.40" stroke="#b0b0b0" stroke-width="1.0"/>
<line x1="191.64" y1="371.30" x2="191.64" y2="367.50" stroke="#b0b0b0" stroke-width="1.0"/>
<line x1="191.64" y1="201.40" x2="191.64" y2="205.20" stroke="#b0b0b0" stroke-width="1.0"/>
<text x="191.64" y="381.90" text-anchor="middle" font-size="8.3" >-0.6</text>
<line x1="198.53" y1="371.30" x2="198.53" y2="369.30" stroke="#b0b0b0" stroke-width="1.0"/>
<line x1="198.53" y1="201.40" x2="198.53" y2="203.40" stroke="#b0b0b0" stroke-width="1.0"/>
<line x1="205.41" y1="371.30" x2="205.41" y2="369.30" stroke="#b0b0b0" stroke-width="1.0"/>
<line x1="205.41" y1="201.40" x2="205.41" y2="203.40" stroke="#b0b0b0" stroke-width="1.0"/>
<line x1="212.30" y1="371.30" x2="212.30" y2="369.30" stroke="#b0b0b0" stroke-width="1.0"/>
<line x1="212.30" y1="201.40" x2="212.30" y2="203.40" stroke="#b0b0b0" stroke-width="1.0"/>
<line x1="219.18" y1="371.30" x2="219.18" y2="367.50" stroke="#b0b0b0" stroke-width="1.0"/>
<line x1="219.18" y1="201.40" x2="219.18" y2="205.20" stroke="#b0b0b0" stroke-width="1.0"/>
<text x="219.18" y="381.90" text-anchor="middle" font-size="8.3" >-0.4</text>
<line x1="226.07" y1="371.30" x2="226.07" y2="369.30" stroke="#b0b0b0" stroke-width="1.0"/>
<line x1="226.07" y1="201.40" x2="226.07" y2="203.40" stroke="#b0b0b0" stroke-width="1.0"/>
<line x1="26.40" y1="371.25" x2="30.20" y2="371.25" stroke="#b0b0b0" stroke-width="1.0"/>
<line x1="226.40" y1="371.25" x2="222.60" y2="371.25" stroke="#b0b0b0" stroke-width="1.0"/>
<text x="24.20" y="371.60" text-anchor="end" font-size="8.3" >0.5</text>
<line x1="26.40" y1="364.50" x2="28.40" y2="364.50" stroke="#b0b0b0" stroke-width="1.0"/>
<line x1="226.40" y1="364.50" x2="224.40" y2="364.50" stroke="#b0b0b0" stroke-width="1.0"/>
<line x1="26.40" y1="357.75" x2="28.40" y2="357.75" stroke="#b0b0b0" stroke-width="1.0"/>
<line x1="226.40" y1="357.75" x2="224.40" y2="357.75" stroke="#b0b0b0" stroke-width="1.0"/>
<line x1="26.40" y1="350.99" x2="28.40" y2="350.99" stroke="#b0b0b0" stroke-width="1.0"/>
<line x1="226.40" y1="350.99" x2="224.40" y2="350.99" stroke="#b0b0b0" stroke-width="1.0"/>
<line x1="26.40" y1="344.24" x2="28.40" y2="344.24" stroke="#b0b0b0" stroke-width="1.0"/>
<line x1="226.40" y1="344.24" x2="224.40" y2="344.24" stroke="#b0b0b0" stroke-width="1.0"/>
<line x1="26.40" y1="337.49" x2="30.20" y2="337.49" stroke="#b0b0b0" stroke-width="1.0"/>
<line x1="226.40" y1="337.49" x2="222.60" y2="337.49" stroke="#b0b0b0" stroke-width="1.0"/>
<text x="24.20" y="340.69" text-anchor="end" font-size="8.3" >1.0</text>
<line x1="26.40" y1="330.74" x2="28.40" y2="330.74" stroke="#b0b0b0" stroke-width="1.0"/>
<line x1="226.40" y1="330.74" x2="224.40" y2="330.74" stroke="#b0b0b0" stroke-width="1.0"/>
<line x1="26.40" y1="323.99" x2="28.40" y2="323.99" stroke="#b0b0b0" stroke-width="1.0"/>
<line x1="226.40" y1="323.99" x2="224.40" y2="323.99" stroke="#b0b0b0" stroke-width="1.0"/>
<line x1="26.40" y1="317.23" x2="28.40" y2="317.23" stroke="#b0b0b0" stroke-width="1.0"/>
<line x1="226.40" y1="317.23" x2="224.40" y2="317.23" stroke="#b0b0b0" stroke-width="1.0"/>
<line x1="26.40" y1="310.48" x2="28.40" y2="310.48" stroke="#b0b0b0" stroke-width="1.0"/>
<line x1="226.40" y1="310.48" x2="224.40" y2="310.48" stroke="#b0b0b0" stroke-width="1.0"/>
<line x1="26.40" y1="303.73" x2="30.20" y2="303.73" stroke="#b0b0b0" stroke-width="1.0"/>
<line x1="226.40" y1="303.73" x2="222.60" y2="303.73" stroke="#b0b0b0" stroke-width="1.0"/>
<text x="24.20" y="306.93" text-anchor="end" font-size="8.3" >1.5</text>
<line x1="26.40" y1="296.98" x2="28.40" y2="296.98" stroke="#b0b0b0" stroke-width="1.0"/>
<line x1="226.40" y1="296.98" x2="224.40" y2="296.98" stroke="#b0b0b0" stroke-width="1.0"/>
<line x1="26.40" y1="290.23" x2="28.40" y2="290.23" stroke="#b0b0b0" stroke-width="1.0"/>
<line x1="226.40" y1="290.23" x2="224.40" y2="290.23" stroke="#b0b0b0" stroke-width="1.0"/>
<line x1="26.40" y1="283.47" x2="28.40" y2="283.47" stroke="#b0b0b0" stroke-width="1.0"/>
<line x1="226.40" y1="283.47" x2="224.40" y2="283.47" stroke="#b0b0b0" stroke-width="1.0"/>
<line x1="26.40" y1="276.72" x2="28.40" y2="276.72" stroke="#b0b0b0" stroke-width="1.0"/>
<line x1="226.40" y1="276.72" x2="224.40" y2="276.72" stroke="#b0b0b0" stroke-width="1.0"/>
<line x1="26.40" y1="269.97" x2="30.20" y2="269.97" stroke="#b0b0b0" stroke-width="1.0"/>
<line x1="226.40" y1="269.97" x2="222.60" y2="269.97" stroke="#b0b0b0" stroke-width="1.0"/>
<text x="24.20" y="273.17" text-anchor="end" font-size="8.3" >2.0</text>
<line x1="26.40" y1="263.22" x2="28.40" y2="263.22" stroke="#b0b0b0" stroke-width="1.0"/>
<line x1="226.40" y1="263.22" x2="224.40" y2="263.22" stroke="#b0b0b0" stroke-width="1.0"/>
<line x1="26.40" y1="256.47" x2="28.40" y2="256.47" stroke="#b0b0b0" stroke-width="1.0"/>
<line x1="226.40" y1="256.47" x2="224.40" y2="256.47" stroke="#b0b0b0" stroke-width="1.0"/>
<line x1="26.40" y1="249.71" x2="28.40" y2="249.71" stroke="#b0b0b0" stroke-width="1.0"/>
<line x1="226.40" y1="249.71" x2="224.40" y2="249.71" stroke="#b0b0b0" stroke-width="1.0"/>
<line x1="26.40" y1="242.96" x2="28.40" y2="242.96" stroke="#b0b0b0" stroke-width="1.0"/>
<line x1="226.40" y1="242.96" x2="224.40" y2="242.96" stroke="#b0b0b0" stroke-width="1.0"/>
<line x1="26.40" y1="236.21" x2="30.20" y2="236.21" stroke="#b0b0b0" stroke-width="1.0"/>
<line x1="226.40" y1="236.21" x2="222.60" y2="236.21" stroke="#b0b0b0" stroke-width="1.0"/>
<text x="24.20" y="239.41" text-anchor="end" font-size="8.3" >2.5</text>
<line x1="26.40" y1="229.46" x2="28.40" y2="229.46" stroke="#b0b0b0" stroke-width="1.0"/>
<line x1="226.40" y1="229.46" x2="224.40" y2="229.46" stroke="#b0b0b0" stroke-width="1.0"/>
<line x1="26.40" y1="222.71" x2="28.40" y2="222.71" stroke="#b0b0b0" stroke-width="1.0"/>
<line x1="226.40" y1="222.71" x2="224.40" y2="222.71" stroke="#b0b0b0" stroke-width="1.0"/>
<line x1="26.40" y1="215.95" x2="28.40" y2="215.95" stroke="#b0b0b0" stroke-width="1.0"/>
<line x1="226.40" y1="215.95" x2="224.40" y2="215.95" stroke="#b0b0b0" stroke-width="1.0"/>
<line x1="26.40" y1="209.20" x2="28.40" y2="209.20" stroke="#b0b0b0" stroke-width="1.0"/>
<line x1="226.40" y1="209.20" x2="224.40" y2="209.20" stroke="#b0b0b0" stroke-width="1.0"/>
<line x1="26.40" y1="202.45" x2="30.20" y2="202.45" stroke="#b0b0b0" stroke-width="1.0"/>
<line x1="226.40" y1="202.45" x2="222.60" y2="202.45" stroke="#b0b0b0" stroke-width="1.0"/>
<text x="24.20" y="206.70" text-anchor="end" font-size="8.3" >3.0</text>
<rect x="261.40" y="201.40" width="200.00" height="169.90" fill="none" stroke="#b0b0b0" stroke-width="1"/>
<line x1="261.12" y1="371.30" x2="261.12" y2="369.30" stroke="#b0b0b0" stroke-width="1.0"/>
<line x1="261.12" y1="201.40" x2="261.12" y2="203.40" stroke="#b0b0b0" stroke-width="1.0"/>
<line x1="277.92" y1="371.30" x2="277.92" y2="369.30" stroke="#b0b0b0" stroke-width="1.0"/>
<line x1="277.92" y1="201.40" x2="277.92" y2="203.40" stroke="#b0b0b0" stroke-width="1.0"/>
<line x1="289.84" y1="371.30" x2="289.84" y2="369.30" stroke="#b0b0b0" stroke-width="1.0"/>
<line x1="289.84" y1="201.40" x2="289.84" y2="203.40" stroke="#b0b0b0" stroke-width="1.0"/>
<line x1="299.08" y1="371.30" x2="299.08" y2="369.30" stroke="#b0b0b0" stroke-width="1.0"/>
<line x1="299.08" y1="201.40" x2="299.08" y2="203.40" stroke="#b0b0b0" stroke-width="1.0"/>
<line x1="306.64" y1="371.30" x2="306.64" y2="369.30" stroke="#b0b0b0" stroke-width="1.0"/>
<line x1="306.64" y1="201.40" x2="306.64" y2="203.40" stroke="#b0b0b0" stroke-width="1.0"/>
<line x1="313.02" y1="371.30" x2="313.02" y2="369.30" stroke="#b0b0b0" stroke-width="1.0"/>
<line x1="313.02" y1="201.40" x2="313.02" y2="203.40" stroke="#b0b0b0" stroke-width="1.0"/>
<line x1="318.55" y1="371.30" x2="318.55" y2="369.30" stroke="#b0b0b0" stroke-width="1.0"/>
<line x1="318.55" y1="201.40" x2="318.55" y2="203.40" stroke="#b0b0b0" stroke-width="1.0"/>
<line x1="323.43" y1="371.30" x2="323.43" y2="369.30" stroke="#b0b0b0" stroke-width="1.0"/>
<line x1="323.43" y1="201.40" x2="323.43" y2="203.40" stroke="#b0b0b0" stroke-width="1.0"/>
<line x1="327.80" y1="371.30" x2="327.80" y2="367.50" stroke="#b0b0b0" stroke-width="1.0"/>
<line x1="327.80" y1="201.40" x2="327.80" y2="205.20" stroke="#b0b0b0" stroke-width="1.0"/>
<text x="327.80" y="381.90" text-anchor="middle" font-size="8.3" >100</text>
<line x1="356.52" y1="371.30" x2="356.52" y2="369.30" stroke="#b0b0b0" stroke-width="1.0"/>
<line x1="356.52" y1="201.40" x2="356.52" y2="203.40" stroke="#b0b0b0" stroke-width="1.0"/>
<line x1="373.32" y1="371.30" x2="373.32" y2="369.30" stroke="#b0b0b0" stroke-width="1.0"/>
<line x1="373.32" y1="201.40" x2="373.32" y2="203.40" stroke="#b0b0b0" stroke-width="1.0"/>
<line x1="385.24" y1="371.30" x2="385.24" y2="369.30" stroke="#b0b0b0" stroke-width="1.0"/>
<line x1="385.24" y1="201.40" x2="385.24" y2="203.40" stroke="#b0b0b0" stroke-width="1.0"/>
<line x1="394.48" y1="371.30" x2="394.48" y2="369.30" stroke="#b0b0b0" stroke-width="1.0"/>
<line x1="394.48" y1="201.40" x2="394.48" y2="203.40" stroke="#b0b0b0" stroke-width="1.0"/>
<line x1="402.04" y1="371.30" x2="402.04" y2="369.30" stroke="#b0b0b0" stroke-width="1.0"/>
<line x1="402.04" y1="201.40" x2="402.04" y2="203.40" stroke="#b0b0b0" stroke-width="1.0"/>
<line x1="408.42" y1="371.30" x2="408.42" y2="369.30" stroke="#b0b0b0" stroke-width="1.0"/>
<line x1="408.42" y1="201.40" x2="408.42" y2="203.40" stroke="#b0b0b0" stroke-width="1.0"/>
<line x1="413.95" y1="371.30" x2="413.95" y2="369.30" stroke="#b0b0b0" stroke-width="1.0"/>
<line x1="413.95" y1="201.40" x2="413.95" y2="203.40" stroke="#b0b0b0" stroke-width="1.0"/>
<line x1="418.83" y1="371.30" x2="418.83" y2="369.30" stroke="#b0b0b0" stroke-width="1.0"/>
<line x1="418.83" y1="201.40" x2="418.83" y2="203.40" stroke="#b0b0b0" stroke-width="1.0"/>
<line x1="423.20" y1="371.30" x2="423.20" y2="367.50" stroke="#b0b0b0" stroke-width="1.0"/>
<line x1="423.20" y1="201.40" x2="423.20" y2="205.20" stroke="#b0b0b0" stroke-width="1.0"/>
<text x="423.20" y="381.90" text-anchor="middle" font-size="8.3" >1000</text>
<line x1="451.92" y1="371.30" x2="451.92" y2="369.30" stroke="#b0b0b0" stroke-width="1.0"/>
<line x1="451.92" y1="201.40" x2="451.92" y2="203.40" stroke="#b0b0b0" stroke-width="1.0"/>
<line x1="261.40" y1="371.50" x2="265.20" y2="371.50" stroke="#b0b0b0" stroke-width="1.0"/>
<line x1="461.40" y1="371.50" x2="457.60" y2="371.50" stroke="#b0b0b0" stroke-width="1.0"/>
<text x="259.20" y="371.60" text-anchor="end" font-size="8.3" >4.0</text>
<line x1="261.40" y1="363.79" x2="263.40" y2="363.79" stroke="#b0b0b0" stroke-width="1.0"/>
<line x1="461.40" y1="363.79" x2="459.40" y2="363.79" stroke="#b0b0b0" stroke-width="1.0"/>
<line x1="261.40" y1="356.09" x2="263.40" y2="356.09" stroke="#b0b0b0" stroke-width="1.0"/>
<line x1="461.40" y1="356.09" x2="459.40" y2="356.09" stroke="#b0b0b0" stroke-width="1.0"/>
<line x1="261.40" y1="348.38" x2="263.40" y2="348.38" stroke="#b0b0b0" stroke-width="1.0"/>
<line x1="461.40" y1="348.38" x2="459.40" y2="348.38" stroke="#b0b0b0" stroke-width="1.0"/>
<line x1="261.40" y1="340.68" x2="263.40" y2="340.68" stroke="#b0b0b0" stroke-width="1.0"/>
<line x1="461.40" y1="340.68" x2="459.40" y2="340.68" stroke="#b0b0b0" stroke-width="1.0"/>
<line x1="261.40" y1="332.97" x2="265.20" y2="332.97" stroke="#b0b0b0" stroke-width="1.0"/>
<line x1="461.40" y1="332.97" x2="457.60" y2="332.97" stroke="#b0b0b0" stroke-width="1.0"/>
<text x="259.20" y="336.17" text-anchor="end" font-size="8.3" >4.5</text>
<line x1="261.40" y1="325.26" x2="263.40" y2="325.26" stroke="#b0b0b0" stroke-width="1.0"/>
<line x1="461.40" y1="325.26" x2="459.40" y2="325.26" stroke="#b0b0b0" stroke-width="1.0"/>
<line x1="261.40" y1="317.56" x2="263.40" y2="317.56" stroke="#b0b0b0" stroke-width="1.0"/>
<line x1="461.40" y1="317.56" x2="459.40" y2="317.56" stroke="#b0b0b0" stroke-width="1.0"/>
<line x1="261.40" y1="309.85" x2="263.40" y2="309.85" stroke="#b0b0b0" stroke-width="1.0"/>
<line x1="461.40" y1="309.85" x2="459.40" y2="309.85" stroke="#b0b0b0" stroke-width="1.0"/>
<line x1="261.40" y1="302.15" x2="263.40" y2="302.15" stroke="#b0b0b0" stroke-width="1.0"/>
<line x1="461.40" y1="302.15" x2="459.40" y2="302.15" stroke="#b0b0b0" stroke-width="1.0"/>
<line x1="261.40" y1="294.44" x2="265.20" y2="294.44" stroke="#b0b0b0" stroke-width="1.0"/>
<line x1="461.40" y1="294.44" x2="457.60" y2="294.44" stroke="#b0b0b0" stroke-width="1.0"/>
<text x="259.20" y="297.64" text-anchor="end" font-size="8.3" >5.0</text>
<line x1="261.40" y1="286.73" x2="263.40" y2="286.73" stroke="#b0b0b0" stroke-width="1.0"/>
<line x1="461.40" y1="286.73" x2="459.40" y2="286.73" stroke="#b0b0b0" stroke-width="1.0"/>
<line x1="261.40" y1="279.03" x2="263.40" y2="279.03" stroke="#b0b0b0" stroke-width="1.0"/>
<line x1="461.40" y1="279.03" x2="459.40" y2="279.03" stroke="#b0b0b0" stroke-width="1.0"/>
<line x1="261.40" y1="271.32" x2="263.40" y2="271.32" stroke="#b0b0b0" stroke-width="1.0"/>
<line x1="461.40" y1="271.32" x2="459.40" y2="271.32" stroke="#b0b0b0" stroke-width="1.0"/>
<line x1="261.40" y1="263.62" x2="263.40" y2="263.62" stroke="#b0b0b0" stroke-width="1.0"/>
<line x1="461.40" y1="263.62" x2="459.40" y2="263.62" stroke="#b0b0b0" stroke-width="1.0"/>
<line x1="261.40" y1="255.91" x2="265.20" y2="255.91" stroke="#b0b0b0" stroke-width="1.0"/>
<line x1="461.40" y1="255.91" x2="457.60" y2="255.91" stroke="#b0b0b0" stroke-width="1.0"/>
<text x="259.20" y="259.11" text-anchor="end" font-size="8.3" >5.5</text>
<line x1="261.40" y1="248.20" x2="263.40" y2="248.20" stroke="#b0b0b0" stroke-width="1.0"/>
<line x1="461.40" y1="248.20" x2="459.40" y2="248.20" stroke="#b0b0b0" stroke-width="1.0"/>
<line x1="261.40" y1="240.50" x2="263.40" y2="240.50" stroke="#b0b0b0" stroke-width="1.0"/>
<line x1="461.40" y1="240.50" x2="459.40" y2="240.50" stroke="#b0b0b0" stroke-width="1.0"/>
<line x1="261.40" y1="232.79" x2="263.40" y2="232.79" stroke="#b0b0b0" stroke-width="1.0"/>
<line x1="461.40" y1="232.79" x2="459.40" y2="232.79" stroke="#b0b0b0" stroke-width="1.0"/>
<line x1="261.40" y1="225.09" x2="263.40" y2="225.09" stroke="#b0b0b0" stroke-width="1.0"/>
<line x1="461.40" y1="225.09" x2="459.40" y2="225.09" stroke="#b0b0b0" stroke-width="1.0"/>
<line x1="261.40" y1="217.38" x2="265.20" y2="217.38" stroke="#b0b0b0" stroke-width="1.0"/>
<line x1="461.40" y1="217.38" x2="457.60" y2="217.38" stroke="#b0b0b0" stroke-width="1.0"/>
<text x="259.20" y="220.58" text-anchor="end" font-size="8.3" >6.0</text>
<line x1="261.40" y1="209.67" x2="263.40" y2="209.67" stroke="#b0b0b0" stroke-width="1.0"/>
<line x1="461.40" y1="209.67" x2="459.40" y2="209.67" stroke="#b0b0b0" stroke-width="1.0"/>
<line x1="261.40" y1="201.97" x2="263.40" y2="201.97" stroke="#b0b0b0" stroke-width="1.0"/>
<line x1="461.40" y1="201.97" x2="459.40" y2="201.97" stroke="#b0b0b0" stroke-width="1.0"/>
<rect x="498.40" y="201.40" width="200.00" height="169.90" fill="none" stroke="#b0b0b0" stroke-width="1"/>
<line x1="498.89" y1="371.30" x2="498.89" y2="369.30" stroke="#b0b0b0" stroke-width="1.0"/>
<line x1="498.89" y1="201.40" x2="498.89" y2="203.40" stroke="#b0b0b0" stroke-width="1.0"/>
<line x1="515.67" y1="371.30" x2="515.67" y2="369.30" stroke="#b0b0b0" stroke-width="1.0"/>
<line x1="515.67" y1="201.40" x2="515.67" y2="203.40" stroke="#b0b0b0" stroke-width="1.0"/>
<line x1="527.58" y1="371.30" x2="527.58" y2="369.30" stroke="#b0b0b0" stroke-width="1.0"/>
<line x1="527.58" y1="201.40" x2="527.58" y2="203.40" stroke="#b0b0b0" stroke-width="1.0"/>
<line x1="536.81" y1="371.30" x2="536.81" y2="369.30" stroke="#b0b0b0" stroke-width="1.0"/>
<line x1="536.81" y1="201.40" x2="536.81" y2="203.40" stroke="#b0b0b0" stroke-width="1.0"/>
<line x1="544.36" y1="371.30" x2="544.36" y2="369.30" stroke="#b0b0b0" stroke-width="1.0"/>
<line x1="544.36" y1="201.40" x2="544.36" y2="203.40" stroke="#b0b0b0" stroke-width="1.0"/>
<line x1="550.74" y1="371.30" x2="550.74" y2="369.30" stroke="#b0b0b0" stroke-width="1.0"/>
<line x1="550.74" y1="201.40" x2="550.74" y2="203.40" stroke="#b0b0b0" stroke-width="1.0"/>
<line x1="556.26" y1="371.30" x2="556.26" y2="369.30" stroke="#b0b0b0" stroke-width="1.0"/>
<line x1="556.26" y1="201.40" x2="556.26" y2="203.40" stroke="#b0b0b0" stroke-width="1.0"/>
<line x1="561.14" y1="371.30" x2="561.14" y2="369.30" stroke="#b0b0b0" stroke-width="1.0"/>
<line x1="561.14" y1="201.40" x2="561.14" y2="203.40" stroke="#b0b0b0" stroke-width="1.0"/>
<line x1="565.50" y1="371.30" x2="565.50" y2="367.50" stroke="#b0b0b0" stroke-width="1.0"/>
<line x1="565.50" y1="201.40" x2="565.50" y2="205.20" stroke="#b0b0b0" stroke-width="1.0"/>
<text x="565.50" y="381.90" text-anchor="middle" font-size="8.3" >100</text>
<line x1="594.19" y1="371.30" x2="594.19" y2="369.30" stroke="#b0b0b0" stroke-width="1.0"/>
<line x1="594.19" y1="201.40" x2="594.19" y2="203.40" stroke="#b0b0b0" stroke-width="1.0"/>
<line x1="610.97" y1="371.30" x2="610.97" y2="369.30" stroke="#b0b0b0" stroke-width="1.0"/>
<line x1="610.97" y1="201.40" x2="610.97" y2="203.40" stroke="#b0b0b0" stroke-width="1.0"/>
<line x1="622.88" y1="371.30" x2="622.88" y2="369.30" stroke="#b0b0b0" stroke-width="1.0"/>
<line x1="622.88" y1="201.40" x2="622.88" y2="203.40" stroke="#b0b0b0" stroke-width="1.0"/>
<line x1="632.11" y1="371.30" x2="632.11" y2="369.30" stroke="#b0b0b0" stroke-width="1.0"/>
<line x1="632.11" y1="201.40" x2="632.11" y2="203.40" stroke="#b0b0b0" stroke-width="1.0"/>
<line x1="639.66" y1="371.30" x2="639.66" y2="369.30" stroke="#b0b0b0" stroke-width="1.0"/>
<line x1="639.66" y1="201.40" x2="639.66" y2="203.40" stroke="#b0b0b0" stroke-width="1.0"/>
<line x1="646.04" y1="371.30" x2="646.04" y2="369.30" stroke="#b0b0b0" stroke-width="1.0"/>
<line x1="646.04" y1="201.40" x2="646.04" y2="203.40" stroke="#b0b0b0" stroke-width="1.0"/>
<line x1="651.56" y1="371.30" x2="651.56" y2="369.30" stroke="#b0b0b0" stroke-width="1.0"/>
<line x1="651.56" y1="201.40" x2="651.56" y2="203.40" stroke="#b0b0b0" stroke-width="1.0"/>
<line x1="656.44" y1="371.30" x2="656.44" y2="369.30" stroke="#b0b0b0" stroke-width="1.0"/>
<line x1="656.44" y1="201.40" x2="656.44" y2="203.40" stroke="#b0b0b0" stroke-width="1.0"/>
<line x1="660.80" y1="371.30" x2="660.80" y2="367.50" stroke="#b0b0b0" stroke-width="1.0"/>
<line x1="660.80" y1="201.40" x2="660.80" y2="205.20" stroke="#b0b0b0" stroke-width="1.0"/>
<text x="660.80" y="381.90" text-anchor="middle" font-size="8.3" >1000</text>
<line x1="689.49" y1="371.30" x2="689.49" y2="369.30" stroke="#b0b0b0" stroke-width="1.0"/>
<line x1="689.49" y1="201.40" x2="689.49" y2="203.40" stroke="#b0b0b0" stroke-width="1.0"/>
<line x1="498.40" y1="371.25" x2="500.40" y2="371.25" stroke="#b0b0b0" stroke-width="1.0"/>
<line x1="698.40" y1="371.25" x2="696.40" y2="371.25" stroke="#b0b0b0" stroke-width="1.0"/>
<line x1="498.40" y1="365.40" x2="502.20" y2="365.40" stroke="#b0b0b0" stroke-width="1.0"/>
<line x1="698.40" y1="365.40" x2="694.60" y2="365.40" stroke="#b0b0b0" stroke-width="1.0"/>
<text x="496.20" y="368.60" text-anchor="end" font-size="8.3" >44.0</text>
<line x1="498.40" y1="359.55" x2="500.40" y2="359.55" stroke="#b0b0b0" stroke-width="1.0"/>
<line x1="698.40" y1="359.55" x2="696.40" y2="359.55" stroke="#b0b0b0" stroke-width="1.0"/>
<line x1="498.40" y1="353.70" x2="500.40" y2="353.70" stroke="#b0b0b0" stroke-width="1.0"/>
<line x1="698.40" y1="353.70" x2="696.40" y2="353.70" stroke="#b0b0b0" stroke-width="1.0"/>
<line x1="498.40" y1="347.86" x2="500.40" y2="347.86" stroke="#b0b0b0" stroke-width="1.0"/>
<line x1="698.40" y1="347.86" x2="696.40" y2="347.86" stroke="#b0b0b0" stroke-width="1.0"/>
<line x1="498.40" y1="342.01" x2="500.40" y2="342.01" stroke="#b0b0b0" stroke-width="1.0"/>
<line x1="698.40" y1="342.01" x2="696.40" y2="342.01" stroke="#b0b0b0" stroke-width="1.0"/>
<line x1="498.40" y1="336.16" x2="502.20" y2="336.16" stroke="#b0b0b0" stroke-width="1.0"/>
<line x1="698.40" y1="336.16" x2="694.60" y2="336.16" stroke="#b0b0b0" stroke-width="1.0"/>
<text x="496.20" y="339.36" text-anchor="end" font-size="8.3" >44.5</text>
<line x1="498.40" y1="330.31" x2="500.40" y2="330.31" stroke="#b0b0b0" stroke-width="1.0"/>
<line x1="698.40" y1="330.31" x2="696.40" y2="330.31" stroke="#b0b0b0" stroke-width="1.0"/>
<line x1="498.40" y1="324.46" x2="500.40" y2="324.46" stroke="#b0b0b0" stroke-width="1.0"/>
<line x1="698.40" y1="324.46" x2="696.40" y2="324.46" stroke="#b0b0b0" stroke-width="1.0"/>
<line x1="498.40" y1="318.62" x2="500.40" y2="318.62" stroke="#b0b0b0" stroke-width="1.0"/>
<line x1="698.40" y1="318.62" x2="696.40" y2="318.62" stroke="#b0b0b0" stroke-width="1.0"/>
<line x1="498.40" y1="312.77" x2="500.40" y2="312.77" stroke="#b0b0b0" stroke-width="1.0"/>
<line x1="698.40" y1="312.77" x2="696.40" y2="312.77" stroke="#b0b0b0" stroke-width="1.0"/>
<line x1="498.40" y1="306.92" x2="502.20" y2="306.92" stroke="#b0b0b0" stroke-width="1.0"/>
<line x1="698.40" y1="306.92" x2="694.60" y2="306.92" stroke="#b0b0b0" stroke-width="1.0"/>
<text x="496.20" y="310.12" text-anchor="end" font-size="8.3" >45.0</text>
<line x1="498.40" y1="301.07" x2="500.40" y2="301.07" stroke="#b0b0b0" stroke-width="1.0"/>
<line x1="698.40" y1="301.07" x2="696.40" y2="301.07" stroke="#b0b0b0" stroke-width="1.0"/>
<line x1="498.40" y1="295.22" x2="500.40" y2="295.22" stroke="#b0b0b0" stroke-width="1.0"/>
<line x1="698.40" y1="295.22" x2="696.40" y2="295.22" stroke="#b0b0b0" stroke-width="1.0"/>
<line x1="498.40" y1="289.38" x2="500.40" y2="289.38" stroke="#b0b0b0" stroke-width="1.0"/>
<line x1="698.40" y1="289.38" x2="696.40" y2="289.38" stroke="#b0b0b0" stroke-width="1.0"/>
<line x1="498.40" y1="283.53" x2="500.40" y2="283.53" stroke="#b0b0b0" stroke-width="1.0"/>
<line x1="698.40" y1="283.53" x2="696.40" y2="283.53" stroke="#b0b0b0" stroke-width="1.0"/>
<line x1="498.40" y1="277.68" x2="502.20" y2="277.68" stroke="#b0b0b0" stroke-width="1.0"/>
<line x1="698.40" y1="277.68" x2="694.60" y2="277.68" stroke="#b0b0b0" stroke-width="1.0"/>
<text x="496.20" y="280.88" text-anchor="end" font-size="8.3" >45.5</text>
<line x1="498.40" y1="271.83" x2="500.40" y2="271.83" stroke="#b0b0b0" stroke-width="1.0"/>
<line x1="698.40" y1="271.83" x2="696.40" y2="271.83" stroke="#b0b0b0" stroke-width="1.0"/>
<line x1="498.40" y1="265.98" x2="500.40" y2="265.98" stroke="#b0b0b0" stroke-width="1.0"/>
<line x1="698.40" y1="265.98" x2="696.40" y2="265.98" stroke="#b0b0b0" stroke-width="1.0"/>
<line x1="498.40" y1="260.14" x2="500.40" y2="260.14" stroke="#b0b0b0" stroke-width="1.0"/>
<line x1="698.40" y1="260.14" x2="696.40" y2="260.14" stroke="#b0b0b0" stroke-width="1.0"/>
<line x1="498.40" y1="254.29" x2="500.40" y2="254.29" stroke="#b0b0b0" stroke-width="1.0"/>
<line x1="698.40" y1="254.29" x2="696.40" y2="254.29" stroke="#b0b0b0" stroke-width="1.0"/>
<line x1="498.40" y1="248.44" x2="502.20" y2="248.44" stroke="#b0b0b0" stroke-width="1.0"/>
<line x1="698.40" y1="248.44" x2="694.60" y2="248.44" stroke="#b0b0b0" stroke-width="1.0"/>
<text x="496.20" y="251.64" text-anchor="end" font-size="8.3" >46.0</text>
<line x1="498.40" y1="242.59" x2="500.40" y2="242.59" stroke="#b0b0b0" stroke-width="1.0"/>
<line x1="698.40" y1="242.59" x2="696.40" y2="242.59" stroke="#b0b0b0" stroke-width="1.0"/>
<line x1="498.40" y1="236.74" x2="500.40" y2="236.74" stroke="#b0b0b0" stroke-width="1.0"/>
<line x1="698.40" y1="236.74" x2="696.40" y2="236.74" stroke="#b0b0b0" stroke-width="1.0"/>
<line x1="498.40" y1="230.90" x2="500.40" y2="230.90" stroke="#b0b0b0" stroke-width="1.0"/>
<line x1="698.40" y1="230.90" x2="696.40" y2="230.90" stroke="#b0b0b0" stroke-width="1.0"/>
<line x1="498.40" y1="225.05" x2="500.40" y2="225.05" stroke="#b0b0b0" stroke-width="1.0"/>
<line x1="698.40" y1="225.05" x2="696.40" y2="225.05" stroke="#b0b0b0" stroke-width="1.0"/>
<line x1="498.40" y1="219.20" x2="502.20" y2="219.20" stroke="#b0b0b0" stroke-width="1.0"/>
<line x1="698.40" y1="219.20" x2="694.60" y2="219.20" stroke="#b0b0b0" stroke-width="1.0"/>
<text x="496.20" y="222.40" text-anchor="end" font-size="8.3" >46.5</text>
<line x1="498.40" y1="213.35" x2="500.40" y2="213.35" stroke="#b0b0b0" stroke-width="1.0"/>
<line x1="698.40" y1="213.35" x2="696.40" y2="213.35" stroke="#b0b0b0" stroke-width="1.0"/>
<line x1="498.40" y1="207.50" x2="500.40" y2="207.50" stroke="#b0b0b0" stroke-width="1.0"/>
<line x1="698.40" y1="207.50" x2="696.40" y2="207.50" stroke="#b0b0b0" stroke-width="1.0"/>
<line x1="498.40" y1="201.66" x2="500.40" y2="201.66" stroke="#b0b0b0" stroke-width="1.0"/>
<line x1="698.40" y1="201.66" x2="696.40" y2="201.66" stroke="#b0b0b0" stroke-width="1.0"/>
<text x="126.40" y="191.90" text-anchor="middle" font-size="10.2" >α</text>
<text x="361.40" y="191.90" text-anchor="middle" font-size="10.2" >α</text>
<text x="598.40" y="191.90" text-anchor="middle" font-size="10.2" >α</text>
<text x="126.40" y="390.80" text-anchor="middle" font-size="10.2" >α</text>
<text x="361.40" y="391.00" text-anchor="middle" font-size="8.7" >log E<tspan font-size="5.8" dy="1.5">p</tspan><tspan dy="-1.5"> (keV)</tspan></text>
<text x="598.40" y="391.00" text-anchor="middle" font-size="8.7" >log E<tspan font-size="5.8" dy="1.5">p</tspan><tspan dy="-1.5"> (keV)</tspan></text>
<text transform="translate(7.80,96.40) rotate(-90)" text-anchor="start" font-size="8.7">log Γ</text>
<text transform="translate(242.60,98.80) rotate(-90)" text-anchor="start" font-size="8.7">log γ<tspan font-size="4.8" dy="1.6">inj</tspan></text>
<text transform="translate(485.60,89.80) rotate(-90)" text-anchor="start" font-size="8.7">q</text>
<text transform="translate(8.00,296.80) rotate(-90)" text-anchor="start" font-size="8.7">log B<tspan font-size="5.6" dy="1.7">0</tspan></text>
<text transform="translate(242.60,297.80) rotate(-90)" text-anchor="start" font-size="8.7">log γ<tspan font-size="4.8" dy="1.6">inj</tspan></text>
<text transform="translate(475.60,298.20) rotate(-90)" text-anchor="start" font-size="8.7">log R<tspan font-size="6.8" dy="-4.0">o</tspan><tspan font-size="4.8" dx="-3.2" dy="5.6">inj</tspan></text>
<text x="213.40" y="161.50" text-anchor="end" font-size="9.3" >r=0.407</text>
<text x="448.40" y="161.50" text-anchor="end" font-size="9.3" >r=0.788</text>
<text x="685.40" y="161.50" text-anchor="end" font-size="9.3" >r=0.755</text>
<text x="213.40" y="360.90" text-anchor="end" font-size="9.3" >r=0.606</text>
<text x="448.40" y="360.90" text-anchor="end" font-size="9.3" >r=0.443</text>
<text x="685.40" y="360.90" text-anchor="end" font-size="9.3" >r=0.512</text>
</g>
<g >
<line x1="77.80" y1="5.00" x2="77.80" y2="60.30" stroke="#000" stroke-opacity="0.34" stroke-width="1"/>
<line x1="64.20" y1="26.10" x2="86.90" y2="26.10" stroke="#000" stroke-opacity="0.27" stroke-width="1"/>
<line x1="64.30" y1="60.30" x2="64.30" y2="149.10" stroke="#000" stroke-opacity="0.34" stroke-width="1"/>
<line x1="40.40" y1="93.40" x2="75.60" y2="93.40" stroke="#000" stroke-opacity="0.27" stroke-width="1"/>
<line x1="68.50" y1="114.10" x2="68.50" y2="162.30" stroke="#000" stroke-opacity="0.34" stroke-width="1"/>
<line x1="59.40" y1="137.70" x2="74.20" y2="137.70" stroke="#000" stroke-opacity="0.27" stroke-width="1"/>
<line x1="50.50" y1="123.20" x2="50.50" y2="163.90" stroke="#000" stroke-opacity="0.34" stroke-width="1"/>
<line x1="43.70" y1="160.20" x2="56.00" y2="160.20" stroke="#000" stroke-opacity="0.27" stroke-width="1"/>
<line x1="78.30" y1="88.00" x2="78.30" y2="157.70" stroke="#000" stroke-opacity="0.34" stroke-width="1"/>
<line x1="75.10" y1="148.00" x2="81.00" y2="148.00" stroke="#000" stroke-opacity="0.27" stroke-width="1"/>
<line x1="78.70" y1="135.20" x2="113.70" y2="135.20" stroke="#000" stroke-opacity="0.27" stroke-width="1"/>
<line x1="92.40" y1="85.30" x2="92.40" y2="155.50" stroke="#000" stroke-opacity="0.34" stroke-width="1"/>
<line x1="94.30" y1="89.80" x2="94.30" y2="156.60" stroke="#000" stroke-opacity="0.34" stroke-width="1"/>
<line x1="96.30" y1="82.50" x2="96.30" y2="160.00" stroke="#000" stroke-opacity="0.34" stroke-width="1"/>
<line x1="82.80" y1="101.40" x2="97.80" y2="101.40" stroke="#000" stroke-opacity="0.27" stroke-width="1"/>
<line x1="91.20" y1="142.50" x2="94.90" y2="142.50" stroke="#000" stroke-opacity="0.27" stroke-width="1"/>
<line x1="124.20" y1="64.40" x2="124.20" y2="150.90" stroke="#000" stroke-opacity="0.34" stroke-width="1"/>
<line x1="121.20" y1="110.20" x2="126.80" y2="110.20" stroke="#000" stroke-opacity="0.27" stroke-width="1"/>
<line x1="142.80" y1="9.10" x2="142.80" y2="92.40" stroke="#000" stroke-opacity="0.34" stroke-width="1"/>
<line x1="143.40" y1="94.20" x2="143.40" y2="171.70" stroke="#000" stroke-opacity="0.34" stroke-width="1"/>
<line x1="144.20" y1="108.80" x2="144.20" y2="171.70" stroke="#000" stroke-opacity="0.34" stroke-width="1"/>
<line x1="145.50" y1="130.00" x2="145.50" y2="171.70" stroke="#000" stroke-opacity="0.17" stroke-width="1"/>
<line x1="148.30" y1="50.20" x2="148.30" y2="132.50" stroke="#000" stroke-opacity="0.34" stroke-width="1"/>
<line x1="152.50" y1="31.30" x2="152.50" y2="115.70" stroke="#000" stroke-opacity="0.34" stroke-width="1"/>
<line x1="154.20" y1="31.30" x2="154.20" y2="115.70" stroke="#000" stroke-opacity="0.34" stroke-width="1"/>
<line x1="153.60" y1="100.50" x2="153.60" y2="171.70" stroke="#000" stroke-opacity="0.34" stroke-width="1"/>
<line x1="159.10" y1="41.50" x2="159.10" y2="171.70" stroke="#000" stroke-opacity="0.34" stroke-width="1"/>
<line x1="159.40" y1="100.30" x2="159.40" y2="124.80" stroke="#000" stroke-opacity="0.34" stroke-width="1"/>
<line x1="170.90" y1="36.40" x2="170.90" y2="113.80" stroke="#000" stroke-opacity="0.34" stroke-width="1"/>
<line x1="176.60" y1="5.00" x2="176.60" y2="61.20" stroke="#000" stroke-opacity="0.34" stroke-width="1"/>
<line x1="176.60" y1="25.50" x2="176.60" y2="91.50" stroke="#000" stroke-opacity="0.34" stroke-width="1"/>
<line x1="184.40" y1="27.30" x2="184.40" y2="103.30" stroke="#000" stroke-opacity="0.34" stroke-width="1"/>
<line x1="202.50" y1="29.30" x2="202.50" y2="101.40" stroke="#000" stroke-opacity="0.34" stroke-width="1"/>
<line x1="142.80" y1="33.30" x2="162.40" y2="33.30" stroke="#000" stroke-opacity="0.27" stroke-width="1"/>
<line x1="138.30" y1="50.80" x2="147.00" y2="50.80" stroke="#000" stroke-opacity="0.27" stroke-width="1"/>
<line x1="145.10" y1="81.50" x2="151.00" y2="81.50" stroke="#000" stroke-opacity="0.27" stroke-width="1"/>
<line x1="149.50" y1="90.00" x2="160.80" y2="90.00" stroke="#000" stroke-opacity="0.27" stroke-width="1"/>
<line x1="147.00" y1="111.40" x2="159.00" y2="111.40" stroke="#000" stroke-opacity="0.27" stroke-width="1"/>
<line x1="136.30" y1="136.40" x2="149.90" y2="136.40" stroke="#000" stroke-opacity="0.27" stroke-width="1"/>
<line x1="134.00" y1="150.60" x2="146.20" y2="150.60" stroke="#000" stroke-opacity="0.27" stroke-width="1"/>
<line x1="149.20" y1="144.30" x2="156.80" y2="144.30" stroke="#000" stroke-opacity="0.27" stroke-width="1"/>
<line x1="155.00" y1="147.50" x2="163.50" y2="147.50" stroke="#000" stroke-opacity="0.27" stroke-width="1"/>
<line x1="140.00" y1="171.30" x2="150.00" y2="171.30" stroke="#000" stroke-opacity="0.27" stroke-width="1"/>
<line x1="161.20" y1="41.90" x2="173.70" y2="41.90" stroke="#000" stroke-opacity="0.27" stroke-width="1"/>
<line x1="166.30" y1="23.30" x2="186.80" y2="23.30" stroke="#000" stroke-opacity="0.17" stroke-width="1"/>
<line x1="166.00" y1="25.50" x2="176.70" y2="25.50" stroke="#000" stroke-opacity="0.27" stroke-width="1"/>
<line x1="169.20" y1="34.40" x2="212.90" y2="34.40" stroke="#000" stroke-opacity="0.27" stroke-width="1"/>
<line x1="173.30" y1="67.00" x2="190.70" y2="67.00" stroke="#000" stroke-opacity="0.27" stroke-width="1"/>
<line x1="329.40" y1="36.30" x2="329.40" y2="50.40" stroke="#000" stroke-opacity="0.34" stroke-width="1"/>
<line x1="326.00" y1="40.30" x2="330.30" y2="40.30" stroke="#000" stroke-opacity="0.27" stroke-width="1"/>
<line x1="313.50" y1="53.00" x2="313.50" y2="69.10" stroke="#000" stroke-opacity="0.34" stroke-width="1"/>
<line x1="310.10" y1="61.20" x2="315.80" y2="61.20" stroke="#000" stroke-opacity="0.27" stroke-width="1"/>
<line x1="327.40" y1="61.50" x2="327.40" y2="79.70" stroke="#000" stroke-opacity="0.34" stroke-width="1"/>
<line x1="317.90" y1="70.70" x2="332.60" y2="70.70" stroke="#000" stroke-opacity="0.27" stroke-width="1"/>
<line x1="285.40" y1="114.70" x2="285.40" y2="141.10" stroke="#000" stroke-opacity="0.34" stroke-width="1"/>
<line x1="278.50" y1="128.40" x2="291.20" y2="128.40" stroke="#000" stroke-opacity="0.27" stroke-width="1"/>
<line x1="299.30" y1="84.40" x2="299.30" y2="138.90" stroke="#000" stroke-opacity="0.34" stroke-width="1"/>
<line x1="275.50" y1="109.60" x2="310.00" y2="109.60" stroke="#000" stroke-opacity="0.27" stroke-width="1"/>
<line x1="303.30" y1="93.10" x2="303.30" y2="118.90" stroke="#000" stroke-opacity="0.34" stroke-width="1"/>
<line x1="294.30" y1="106.20" x2="308.80" y2="106.20" stroke="#000" stroke-opacity="0.27" stroke-width="1"/>
<line x1="312.60" y1="96.70" x2="312.60" y2="124.40" stroke="#000" stroke-opacity="0.34" stroke-width="1"/>
<line x1="299.30" y1="117.30" x2="321.90" y2="117.30" stroke="#000" stroke-opacity="0.27" stroke-width="1"/>
<line x1="331.20" y1="113.30" x2="331.20" y2="151.00" stroke="#000" stroke-opacity="0.34" stroke-width="1"/>
<line x1="313.80" y1="122.90" x2="348.70" y2="122.90" stroke="#000" stroke-opacity="0.27" stroke-width="1"/>
<line x1="359.20" y1="39.10" x2="359.20" y2="56.50" stroke="#000" stroke-opacity="0.34" stroke-width="1"/>
<line x1="356.20" y1="46.40" x2="361.80" y2="46.40" stroke="#000" stroke-opacity="0.27" stroke-width="1"/>
<line x1="379.80" y1="30.50" x2="385.80" y2="30.50" stroke="#000" stroke-opacity="0.27" stroke-width="1"/>
<line x1="383.30" y1="30.50" x2="383.30" y2="48.40" stroke="#000" stroke-opacity="0.34" stroke-width="1"/>
<line x1="373.30" y1="38.40" x2="381.90" y2="38.40" stroke="#000" stroke-opacity="0.27" stroke-width="1"/>
<line x1="377.80" y1="38.20" x2="377.80" y2="72.20" stroke="#000" stroke-opacity="0.34" stroke-width="1"/>
<line x1="378.00" y1="42.50" x2="378.00" y2="55.20" stroke="#000" stroke-opacity="0.17" stroke-width="1"/>
<line x1="379.60" y1="38.20" x2="379.60" y2="65.80" stroke="#000" stroke-opacity="0.17" stroke-width="1"/>
<line x1="387.50" y1="32.90" x2="387.50" y2="69.20" stroke="#000" stroke-opacity="0.34" stroke-width="1"/>
<line x1="388.50" y1="33.00" x2="388.50" y2="60.00" stroke="#000" stroke-opacity="0.17" stroke-width="1"/>
<line x1="389.50" y1="31.50" x2="389.50" y2="60.10" stroke="#000" stroke-opacity="0.34" stroke-width="1"/>
<line x1="394.50" y1="30.40" x2="394.50" y2="65.20" stroke="#000" stroke-opacity="0.34" stroke-width="1"/>
<line x1="378.30" y1="48.40" x2="393.30" y2="48.40" stroke="#000" stroke-opacity="0.27" stroke-width="1"/>
<line x1="391.50" y1="46.40" x2="397.80" y2="46.40" stroke="#000" stroke-opacity="0.27" stroke-width="1"/>
<line x1="374.60" y1="50.50" x2="385.50" y2="50.50" stroke="#000" stroke-opacity="0.27" stroke-width="1"/>
<line x1="382.40" y1="54.30" x2="396.00" y2="54.30" stroke="#000" stroke-opacity="0.27" stroke-width="1"/>
<line x1="371.30" y1="65.50" x2="385.00" y2="65.50" stroke="#000" stroke-opacity="0.27" stroke-width="1"/>
<line x1="369.00" y1="67.40" x2="381.20" y2="67.40" stroke="#000" stroke-opacity="0.27" stroke-width="1"/>
<line x1="396.50" y1="23.40" x2="408.50" y2="23.40" stroke="#000" stroke-opacity="0.27" stroke-width="1"/>
<line x1="405.80" y1="18.00" x2="405.80" y2="33.80" stroke="#000" stroke-opacity="0.34" stroke-width="1"/>
<line x1="401.20" y1="24.70" x2="412.10" y2="24.70" stroke="#000" stroke-opacity="0.27" stroke-width="1"/>
<line x1="410.90" y1="24.70" x2="410.90" y2="65.70" stroke="#000" stroke-opacity="0.34" stroke-width="1"/>
<line x1="412.10" y1="24.30" x2="425.40" y2="24.30" stroke="#000" stroke-opacity="0.27" stroke-width="1"/>
<line x1="419.40" y1="18.00" x2="419.40" y2="36.60" stroke="#000" stroke-opacity="0.34" stroke-width="1"/>
<line x1="401.60" y1="40.20" x2="421.80" y2="40.20" stroke="#000" stroke-opacity="0.27" stroke-width="1"/>
<line x1="404.20" y1="55.50" x2="447.80" y2="55.50" stroke="#000" stroke-opacity="0.27" stroke-width="1"/>
<line x1="437.40" y1="42.00" x2="437.40" y2="68.60" stroke="#000" stroke-opacity="0.34" stroke-width="1"/>
<line x1="522.50" y1="113.90" x2="522.50" y2="168.30" stroke="#000" stroke-opacity="0.34" stroke-width="1"/>
<line x1="512.70" y1="122.90" x2="547.40" y2="122.90" stroke="#000" stroke-opacity="0.27" stroke-width="1"/>
<line x1="515.70" y1="151.40" x2="528.40" y2="151.40" stroke="#000" stroke-opacity="0.27" stroke-width="1"/>
<line x1="536.50" y1="85.90" x2="536.50" y2="149.40" stroke="#000" stroke-opacity="0.34" stroke-width="1"/>
<line x1="540.50" y1="75.60" x2="540.50" y2="151.50" stroke="#000" stroke-opacity="0.34" stroke-width="1"/>
<line x1="531.30" y1="110.20" x2="546.00" y2="110.20" stroke="#000" stroke-opacity="0.27" stroke-width="1"/>
<line x1="549.80" y1="127.30" x2="549.80" y2="168.30" stroke="#000" stroke-opacity="0.34" stroke-width="1"/>
<line x1="550.80" y1="127.30" x2="550.80" y2="168.30" stroke="#000" stroke-opacity="0.17" stroke-width="1"/>
<line x1="536.60" y1="163.50" x2="559.10" y2="163.50" stroke="#000" stroke-opacity="0.27" stroke-width="1"/>
<line x1="547.30" y1="164.20" x2="553.00" y2="164.20" stroke="#000" stroke-opacity="0.27" stroke-width="1"/>
<line x1="564.50" y1="140.40" x2="564.50" y2="168.30" stroke="#000" stroke-opacity="0.34" stroke-width="1"/>
<line x1="566.50" y1="152.30" x2="566.50" y2="168.30" stroke="#000" stroke-opacity="0.34" stroke-width="1"/>
<line x1="555.10" y1="165.00" x2="569.80" y2="165.00" stroke="#000" stroke-opacity="0.27" stroke-width="1"/>
<line x1="568.40" y1="64.40" x2="568.40" y2="149.60" stroke="#000" stroke-opacity="0.34" stroke-width="1"/>
<line x1="550.90" y1="115.50" x2="585.60" y2="115.50" stroke="#000" stroke-opacity="0.27" stroke-width="1"/>
<line x1="596.60" y1="145.50" x2="596.60" y2="168.20" stroke="#000" stroke-opacity="0.34" stroke-width="1"/>
<line x1="593.60" y1="166.00" x2="598.90" y2="166.00" stroke="#000" stroke-opacity="0.27" stroke-width="1"/>
<line x1="615.10" y1="130.30" x2="615.10" y2="168.20" stroke="#000" stroke-opacity="0.34" stroke-width="1"/>
<line x1="616.90" y1="69.60" x2="616.90" y2="144.50" stroke="#000" stroke-opacity="0.17" stroke-width="1"/>
<line x1="617.60" y1="69.60" x2="617.60" y2="144.50" stroke="#000" stroke-opacity="0.17" stroke-width="1"/>
<line x1="615.30" y1="33.60" x2="615.30" y2="90.40" stroke="#000" stroke-opacity="0.34" stroke-width="1"/>
<line x1="620.70" y1="131.30" x2="620.70" y2="167.30" stroke="#000" stroke-opacity="0.34" stroke-width="1"/>
<line x1="610.60" y1="156.30" x2="618.80" y2="156.30" stroke="#000" stroke-opacity="0.27" stroke-width="1"/>
<line x1="617.40" y1="160.30" x2="623.10" y2="160.30" stroke="#000" stroke-opacity="0.27" stroke-width="1"/>
<line x1="625.40" y1="51.00" x2="625.40" y2="131.30" stroke="#000" stroke-opacity="0.34" stroke-width="1"/>
<line x1="624.40" y1="47.00" x2="624.40" y2="115.00" stroke="#000" stroke-opacity="0.17" stroke-width="1"/>
<line x1="608.30" y1="62.40" x2="622.00" y2="62.40" stroke="#000" stroke-opacity="0.27" stroke-width="1"/>
<line x1="606.30" y1="75.60" x2="618.10" y2="75.60" stroke="#000" stroke-opacity="0.27" stroke-width="1"/>
<line x1="611.80" y1="79.40" x2="634.90" y2="79.40" stroke="#000" stroke-opacity="0.27" stroke-width="1"/>
<line x1="621.50" y1="55.80" x2="633.30" y2="55.80" stroke="#000" stroke-opacity="0.27" stroke-width="1"/>
<line x1="631.30" y1="3.50" x2="631.30" y2="89.80" stroke="#000" stroke-opacity="0.34" stroke-width="1"/>
<line x1="631.30" y1="21.70" x2="631.30" y2="67.00" stroke="#000" stroke-opacity="0.34" stroke-width="1"/>
<line x1="627.30" y1="33.10" x2="635.70" y2="33.10" stroke="#000" stroke-opacity="0.27" stroke-width="1"/>
<line x1="639.00" y1="6.40" x2="658.90" y2="6.40" stroke="#000" stroke-opacity="0.27" stroke-width="1"/>
<line x1="645.00" y1="9.40" x2="662.90" y2="9.40" stroke="#000" stroke-opacity="0.27" stroke-width="1"/>
<line x1="638.40" y1="11.10" x2="648.80" y2="11.10" stroke="#000" stroke-opacity="0.27" stroke-width="1"/>
<line x1="648.80" y1="3.50" x2="648.80" y2="37.20" stroke="#000" stroke-opacity="0.34" stroke-width="1"/>
<line x1="656.40" y1="3.50" x2="656.40" y2="43.40" stroke="#000" stroke-opacity="0.34" stroke-width="1"/>
<line x1="643.20" y1="37.20" x2="643.20" y2="87.00" stroke="#000" stroke-opacity="0.34" stroke-width="1"/>
<line x1="633.60" y1="49.30" x2="646.20" y2="49.30" stroke="#000" stroke-opacity="0.27" stroke-width="1"/>
<line x1="642.20" y1="58.60" x2="685.10" y2="58.60" stroke="#000" stroke-opacity="0.27" stroke-width="1"/>
<line x1="674.50" y1="37.10" x2="674.50" y2="114.10" stroke="#000" stroke-opacity="0.34" stroke-width="1"/>
<line x1="50.40" y1="249.80" x2="50.40" y2="292.80" stroke="#000" stroke-opacity="0.34" stroke-width="1"/>
<line x1="40.50" y1="256.10" x2="75.50" y2="256.10" stroke="#000" stroke-opacity="0.27" stroke-width="1"/>
<line x1="43.80" y1="271.10" x2="56.30" y2="271.10" stroke="#000" stroke-opacity="0.27" stroke-width="1"/>
<line x1="64.50" y1="226.40" x2="64.50" y2="318.40" stroke="#000" stroke-opacity="0.34" stroke-width="1"/>
<line x1="64.50" y1="226.40" x2="87.10" y2="226.40" stroke="#000" stroke-opacity="0.27" stroke-width="1"/>
<line x1="68.60" y1="211.50" x2="68.60" y2="256.10" stroke="#000" stroke-opacity="0.34" stroke-width="1"/>
<line x1="59.30" y1="250.70" x2="73.60" y2="250.70" stroke="#000" stroke-opacity="0.27" stroke-width="1"/>
<line x1="77.90" y1="219.30" x2="77.90" y2="311.40" stroke="#000" stroke-opacity="0.34" stroke-width="1"/>
<line x1="78.20" y1="256.10" x2="78.20" y2="281.00" stroke="#000" stroke-opacity="0.34" stroke-width="1"/>
<line x1="78.30" y1="269.20" x2="113.60" y2="269.20" stroke="#000" stroke-opacity="0.27" stroke-width="1"/>
<line x1="75.20" y1="284.30" x2="81.00" y2="284.30" stroke="#000" stroke-opacity="0.27" stroke-width="1"/>
<line x1="92.50" y1="230.20" x2="92.50" y2="295.10" stroke="#000" stroke-opacity="0.34" stroke-width="1"/>
<line x1="94.40" y1="225.40" x2="94.40" y2="295.60" stroke="#000" stroke-opacity="0.34" stroke-width="1"/>
<line x1="96.30" y1="223.10" x2="96.30" y2="296.30" stroke="#000" stroke-opacity="0.34" stroke-width="1"/>
<line x1="83.00" y1="239.30" x2="97.60" y2="239.30" stroke="#000" stroke-opacity="0.27" stroke-width="1"/>
<line x1="124.20" y1="232.30" x2="124.20" y2="323.30" stroke="#000" stroke-opacity="0.34" stroke-width="1"/>
<line x1="121.20" y1="265.20" x2="126.80" y2="265.20" stroke="#000" stroke-opacity="0.27" stroke-width="1"/>
<line x1="142.90" y1="202.00" x2="142.90" y2="340.00" stroke="#000" stroke-opacity="0.34" stroke-width="1"/>
<line x1="138.60" y1="223.90" x2="146.70" y2="223.90" stroke="#000" stroke-opacity="0.27" stroke-width="1"/>
<line x1="148.40" y1="247.30" x2="148.40" y2="330.90" stroke="#000" stroke-opacity="0.34" stroke-width="1"/>
<line x1="154.50" y1="250.00" x2="154.50" y2="357.50" stroke="#000" stroke-opacity="0.34" stroke-width="1"/>
<line x1="145.20" y1="292.40" x2="150.80" y2="292.40" stroke="#000" stroke-opacity="0.27" stroke-width="1"/>
<line x1="136.40" y1="301.20" x2="149.50" y2="301.20" stroke="#000" stroke-opacity="0.27" stroke-width="1"/>
<line x1="152.80" y1="265.90" x2="152.80" y2="357.50" stroke="#000" stroke-opacity="0.34" stroke-width="1"/>
<line x1="159.10" y1="268.20" x2="159.10" y2="357.80" stroke="#000" stroke-opacity="0.34" stroke-width="1"/>
<line x1="144.50" y1="310.90" x2="144.50" y2="357.30" stroke="#000" stroke-opacity="0.17" stroke-width="1"/>
<line x1="145.50" y1="310.90" x2="145.50" y2="357.30" stroke="#000" stroke-opacity="0.17" stroke-width="1"/>
<line x1="148.20" y1="329.10" x2="161.80" y2="329.10" stroke="#000" stroke-opacity="0.27" stroke-width="1"/>
<line x1="143.30" y1="333.30" x2="162.70" y2="333.30" stroke="#000" stroke-opacity="0.27" stroke-width="1"/>
<line x1="134.20" y1="346.90" x2="150.90" y2="346.90" stroke="#000" stroke-opacity="0.27" stroke-width="1"/>
<line x1="149.10" y1="349.10" x2="156.40" y2="349.10" stroke="#000" stroke-opacity="0.27" stroke-width="1"/>
<line x1="155.50" y1="347.60" x2="163.60" y2="347.60" stroke="#000" stroke-opacity="0.27" stroke-width="1"/>
<line x1="176.30" y1="214.70" x2="176.30" y2="342.20" stroke="#000" stroke-opacity="0.34" stroke-width="1"/>
<line x1="176.50" y1="274.70" x2="176.50" y2="287.00" stroke="#000" stroke-opacity="0.34" stroke-width="1"/>
<line x1="166.00" y1="250.50" x2="176.70" y2="250.50" stroke="#000" stroke-opacity="0.27" stroke-width="1"/>
<line x1="170.60" y1="259.70" x2="170.60" y2="342.20" stroke="#000" stroke-opacity="0.34" stroke-width="1"/>
<line x1="184.30" y1="280.50" x2="184.30" y2="345.00" stroke="#000" stroke-opacity="0.34" stroke-width="1"/>
<line x1="202.50" y1="265.50" x2="202.50" y2="339.20" stroke="#000" stroke-opacity="0.34" stroke-width="1"/>
<line x1="161.90" y1="290.40" x2="186.70" y2="290.40" stroke="#000" stroke-opacity="0.27" stroke-width="1"/>
<line x1="169.30" y1="335.70" x2="213.40" y2="335.70" stroke="#000" stroke-opacity="0.27" stroke-width="1"/>
<line x1="172.80" y1="335.70" x2="190.20" y2="335.70" stroke="#000" stroke-opacity="0.27" stroke-width="1"/>
<line x1="289.90" y1="312.30" x2="289.90" y2="350.10" stroke="#000" stroke-opacity="0.34" stroke-width="1"/>
<line x1="276.10" y1="322.40" x2="300.00" y2="322.40" stroke="#000" stroke-opacity="0.27" stroke-width="1"/>
<line x1="303.00" y1="283.60" x2="303.00" y2="338.00" stroke="#000" stroke-opacity="0.34" stroke-width="1"/>
<line x1="300.40" y1="308.90" x2="311.90" y2="308.90" stroke="#000" stroke-opacity="0.27" stroke-width="1"/>
<line x1="339.30" y1="296.10" x2="339.30" y2="323.50" stroke="#000" stroke-opacity="0.34" stroke-width="1"/>
<line x1="334.50" y1="316.50" x2="348.20" y2="316.50" stroke="#000" stroke-opacity="0.27" stroke-width="1"/>
<line x1="344.40" y1="313.90" x2="344.40" y2="340.80" stroke="#000" stroke-opacity="0.34" stroke-width="1"/>
<line x1="339.80" y1="327.60" x2="351.20" y2="327.60" stroke="#000" stroke-opacity="0.27" stroke-width="1"/>
<line x1="372.70" y1="292.70" x2="372.70" y2="318.00" stroke="#000" stroke-opacity="0.34" stroke-width="1"/>
<line x1="367.10" y1="305.20" x2="388.00" y2="305.20" stroke="#000" stroke-opacity="0.27" stroke-width="1"/>
<line x1="337.60" y1="233.90" x2="337.60" y2="264.70" stroke="#000" stroke-opacity="0.34" stroke-width="1"/>
<line x1="333.80" y1="239.20" x2="340.90" y2="239.20" stroke="#000" stroke-opacity="0.27" stroke-width="1"/>
<line x1="340.30" y1="232.00" x2="340.30" y2="268.30" stroke="#000" stroke-opacity="0.34" stroke-width="1"/>
<line x1="337.60" y1="247.40" x2="342.90" y2="247.40" stroke="#000" stroke-opacity="0.27" stroke-width="1"/>
<line x1="348.90" y1="241.80" x2="348.90" y2="269.60" stroke="#000" stroke-opacity="0.34" stroke-width="1"/>
<line x1="346.90" y1="264.30" x2="351.40" y2="264.30" stroke="#000" stroke-opacity="0.27" stroke-width="1"/>
<line x1="355.10" y1="244.10" x2="355.10" y2="271.70" stroke="#000" stroke-opacity="0.34" stroke-width="1"/>
<line x1="352.40" y1="266.40" x2="357.70" y2="266.40" stroke="#000" stroke-opacity="0.27" stroke-width="1"/>
<line x1="360.30" y1="237.00" x2="360.30" y2="264.30" stroke="#000" stroke-opacity="0.34" stroke-width="1"/>
<line x1="358.50" y1="249.70" x2="362.60" y2="249.70" stroke="#000" stroke-opacity="0.27" stroke-width="1"/>
<line x1="364.40" y1="223.90" x2="364.40" y2="243.30" stroke="#000" stroke-opacity="0.34" stroke-width="1"/>
<line x1="364.40" y1="224.40" x2="369.10" y2="224.40" stroke="#000" stroke-opacity="0.27" stroke-width="1"/>
<line x1="371.20" y1="217.20" x2="371.20" y2="259.30" stroke="#000" stroke-opacity="0.34" stroke-width="1"/>
<line x1="374.80" y1="217.20" x2="374.80" y2="235.70" stroke="#000" stroke-opacity="0.34" stroke-width="1"/>
<line x1="370.10" y1="222.80" x2="372.50" y2="222.80" stroke="#000" stroke-opacity="0.27" stroke-width="1"/>
<line x1="372.50" y1="223.30" x2="380.60" y2="223.30" stroke="#000" stroke-opacity="0.27" stroke-width="1"/>
<line x1="368.50" y1="253.50" x2="376.00" y2="253.50" stroke="#000" stroke-opacity="0.27" stroke-width="1"/>
<line x1="373.50" y1="261.00" x2="373.50" y2="278.80" stroke="#000" stroke-opacity="0.34" stroke-width="1"/>
<line x1="370.30" y1="269.80" x2="383.90" y2="269.80" stroke="#000" stroke-opacity="0.27" stroke-width="1"/>
<line x1="388.40" y1="236.50" x2="388.40" y2="267.60" stroke="#000" stroke-opacity="0.34" stroke-width="1"/>
<line x1="386.80" y1="237.40" x2="390.60" y2="237.40" stroke="#000" stroke-opacity="0.27" stroke-width="1"/>
<line x1="383.80" y1="254.50" x2="411.10" y2="254.50" stroke="#000" stroke-opacity="0.27" stroke-width="1"/>
<line x1="392.40" y1="229.40" x2="392.40" y2="250.30" stroke="#000" stroke-opacity="0.34" stroke-width="1"/>
<line x1="389.80" y1="246.20" x2="395.50" y2="246.20" stroke="#000" stroke-opacity="0.27" stroke-width="1"/>
<line x1="402.00" y1="244.20" x2="402.00" y2="268.50" stroke="#000" stroke-opacity="0.34" stroke-width="1"/>
<line x1="403.00" y1="250.30" x2="403.00" y2="264.00" stroke="#000" stroke-opacity="0.17" stroke-width="1"/>
<line x1="397.40" y1="260.50" x2="407.60" y2="260.50" stroke="#000" stroke-opacity="0.27" stroke-width="1"/>
<line x1="404.50" y1="232.10" x2="404.50" y2="254.00" stroke="#000" stroke-opacity="0.34" stroke-width="1"/>
<line x1="407.60" y1="234.40" x2="407.60" y2="254.00" stroke="#000" stroke-opacity="0.34" stroke-width="1"/>
<line x1="402.40" y1="245.00" x2="407.00" y2="245.00" stroke="#000" stroke-opacity="0.27" stroke-width="1"/>
<line x1="405.00" y1="247.00" x2="411.50" y2="247.00" stroke="#000" stroke-opacity="0.27" stroke-width="1"/>
<line x1="416.10" y1="229.40" x2="416.10" y2="248.80" stroke="#000" stroke-opacity="0.34" stroke-width="1"/>
<line x1="413.60" y1="229.50" x2="419.70" y2="229.50" stroke="#000" stroke-opacity="0.27" stroke-width="1"/>
<line x1="424.60" y1="238.00" x2="424.60" y2="256.00" stroke="#000" stroke-opacity="0.34" stroke-width="1"/>
<line x1="421.30" y1="245.70" x2="429.80" y2="245.70" stroke="#000" stroke-opacity="0.27" stroke-width="1"/>
<line x1="435.50" y1="235.30" x2="435.50" y2="249.60" stroke="#000" stroke-opacity="0.34" stroke-width="1"/>
<line x1="434.50" y1="239.40" x2="444.90" y2="239.40" stroke="#000" stroke-opacity="0.27" stroke-width="1"/>
<line x1="527.30" y1="304.00" x2="527.30" y2="364.90" stroke="#000" stroke-opacity="0.34" stroke-width="1"/>
<line x1="513.60" y1="338.40" x2="537.00" y2="338.40" stroke="#000" stroke-opacity="0.27" stroke-width="1"/>
<line x1="540.10" y1="283.00" x2="540.10" y2="340.00" stroke="#000" stroke-opacity="0.34" stroke-width="1"/>
<line x1="537.00" y1="329.30" x2="548.70" y2="329.30" stroke="#000" stroke-opacity="0.27" stroke-width="1"/>
<line x1="574.80" y1="333.50" x2="574.80" y2="365.00" stroke="#000" stroke-opacity="0.34" stroke-width="1"/>
<line x1="576.50" y1="328.30" x2="576.50" y2="365.00" stroke="#000" stroke-opacity="0.34" stroke-width="1"/>
<line x1="572.40" y1="356.70" x2="586.40" y2="356.70" stroke="#000" stroke-opacity="0.27" stroke-width="1"/>
<line x1="571.30" y1="362.50" x2="578.60" y2="362.50" stroke="#000" stroke-opacity="0.27" stroke-width="1"/>
<line x1="586.40" y1="319.00" x2="586.40" y2="365.00" stroke="#000" stroke-opacity="0.34" stroke-width="1"/>
<line x1="584.40" y1="351.50" x2="588.90" y2="351.50" stroke="#000" stroke-opacity="0.27" stroke-width="1"/>
<line x1="577.40" y1="216.40" x2="577.40" y2="273.30" stroke="#000" stroke-opacity="0.34" stroke-width="1"/>
<line x1="575.40" y1="242.10" x2="579.60" y2="242.10" stroke="#000" stroke-opacity="0.27" stroke-width="1"/>
<line x1="581.50" y1="209.20" x2="581.50" y2="281.70" stroke="#000" stroke-opacity="0.34" stroke-width="1"/>
<line x1="577.40" y1="245.50" x2="588.70" y2="245.50" stroke="#000" stroke-opacity="0.27" stroke-width="1"/>
<line x1="592.50" y1="275.90" x2="592.50" y2="341.00" stroke="#000" stroke-opacity="0.34" stroke-width="1"/>
<line x1="589.90" y1="315.50" x2="594.80" y2="315.50" stroke="#000" stroke-opacity="0.27" stroke-width="1"/>
<line x1="597.50" y1="280.90" x2="597.50" y2="341.80" stroke="#000" stroke-opacity="0.34" stroke-width="1"/>
<line x1="595.50" y1="338.30" x2="599.70" y2="338.30" stroke="#000" stroke-opacity="0.27" stroke-width="1"/>
<line x1="601.50" y1="308.20" x2="601.50" y2="353.00" stroke="#000" stroke-opacity="0.34" stroke-width="1"/>
<line x1="601.50" y1="351.50" x2="605.60" y2="351.50" stroke="#000" stroke-opacity="0.27" stroke-width="1"/>
<line x1="608.40" y1="270.20" x2="608.40" y2="349.00" stroke="#000" stroke-opacity="0.34" stroke-width="1"/>
<line x1="609.60" y1="278.40" x2="609.60" y2="306.20" stroke="#000" stroke-opacity="0.17" stroke-width="1"/>
<line x1="610.50" y1="298.00" x2="610.50" y2="348.20" stroke="#000" stroke-opacity="0.34" stroke-width="1"/>
<line x1="611.90" y1="243.30" x2="611.90" y2="306.20" stroke="#000" stroke-opacity="0.17" stroke-width="1"/>
<line x1="610.00" y1="274.60" x2="618.00" y2="274.60" stroke="#000" stroke-opacity="0.27" stroke-width="1"/>
<line x1="605.00" y1="294.50" x2="625.40" y2="294.50" stroke="#000" stroke-opacity="0.27" stroke-width="1"/>
<line x1="607.80" y1="322.20" x2="621.30" y2="322.20" stroke="#000" stroke-opacity="0.27" stroke-width="1"/>
<line x1="607.50" y1="332.20" x2="614.20" y2="332.20" stroke="#000" stroke-opacity="0.27" stroke-width="1"/>
<line x1="606.00" y1="337.80" x2="612.90" y2="337.80" stroke="#000" stroke-opacity="0.27" stroke-width="1"/>
<line x1="625.50" y1="235.30" x2="625.50" y2="335.00" stroke="#000" stroke-opacity="0.34" stroke-width="1"/>
<line x1="625.50" y1="273.40" x2="625.50" y2="294.20" stroke="#000" stroke-opacity="0.34" stroke-width="1"/>
<line x1="621.30" y1="264.30" x2="647.50" y2="264.30" stroke="#000" stroke-opacity="0.27" stroke-width="1"/>
<line x1="623.50" y1="303.40" x2="628.50" y2="303.40" stroke="#000" stroke-opacity="0.27" stroke-width="1"/>
<line x1="629.40" y1="326.90" x2="629.40" y2="365.60" stroke="#000" stroke-opacity="0.34" stroke-width="1"/>
<line x1="627.00" y1="359.70" x2="632.90" y2="359.70" stroke="#000" stroke-opacity="0.27" stroke-width="1"/>
<line x1="638.90" y1="235.30" x2="638.90" y2="300.20" stroke="#000" stroke-opacity="0.34" stroke-width="1"/>
<line x1="634.70" y1="267.60" x2="645.00" y2="267.60" stroke="#000" stroke-opacity="0.27" stroke-width="1"/>
<line x1="640.30" y1="300.00" x2="640.30" y2="349.00" stroke="#000" stroke-opacity="0.17" stroke-width="1"/>
<line x1="641.60" y1="277.90" x2="641.60" y2="346.80" stroke="#000" stroke-opacity="0.34" stroke-width="1"/>
<line x1="644.70" y1="275.20" x2="644.70" y2="342.90" stroke="#000" stroke-opacity="0.34" stroke-width="1"/>
<line x1="642.20" y1="284.50" x2="649.10" y2="284.50" stroke="#000" stroke-opacity="0.27" stroke-width="1"/>
<line x1="640.00" y1="314.30" x2="648.00" y2="314.30" stroke="#000" stroke-opacity="0.27" stroke-width="1"/>
<line x1="639.60" y1="320.20" x2="644.90" y2="320.20" stroke="#000" stroke-opacity="0.27" stroke-width="1"/>
<line x1="653.60" y1="219.40" x2="653.60" y2="280.50" stroke="#000" stroke-opacity="0.34" stroke-width="1"/>
<line x1="650.80" y1="245.40" x2="657.30" y2="245.40" stroke="#000" stroke-opacity="0.27" stroke-width="1"/>
<line x1="661.90" y1="245.70" x2="661.90" y2="310.00" stroke="#000" stroke-opacity="0.34" stroke-width="1"/>
<line x1="658.60" y1="256.00" x2="666.70" y2="256.00" stroke="#000" stroke-opacity="0.27" stroke-width="1"/>
<line x1="672.60" y1="230.40" x2="672.60" y2="280.70" stroke="#000" stroke-opacity="0.34" stroke-width="1"/>
<line x1="672.50" y1="255.20" x2="681.80" y2="255.20" stroke="#000" stroke-opacity="0.27" stroke-width="1"/>
</g>
</svg>
</body></html>
